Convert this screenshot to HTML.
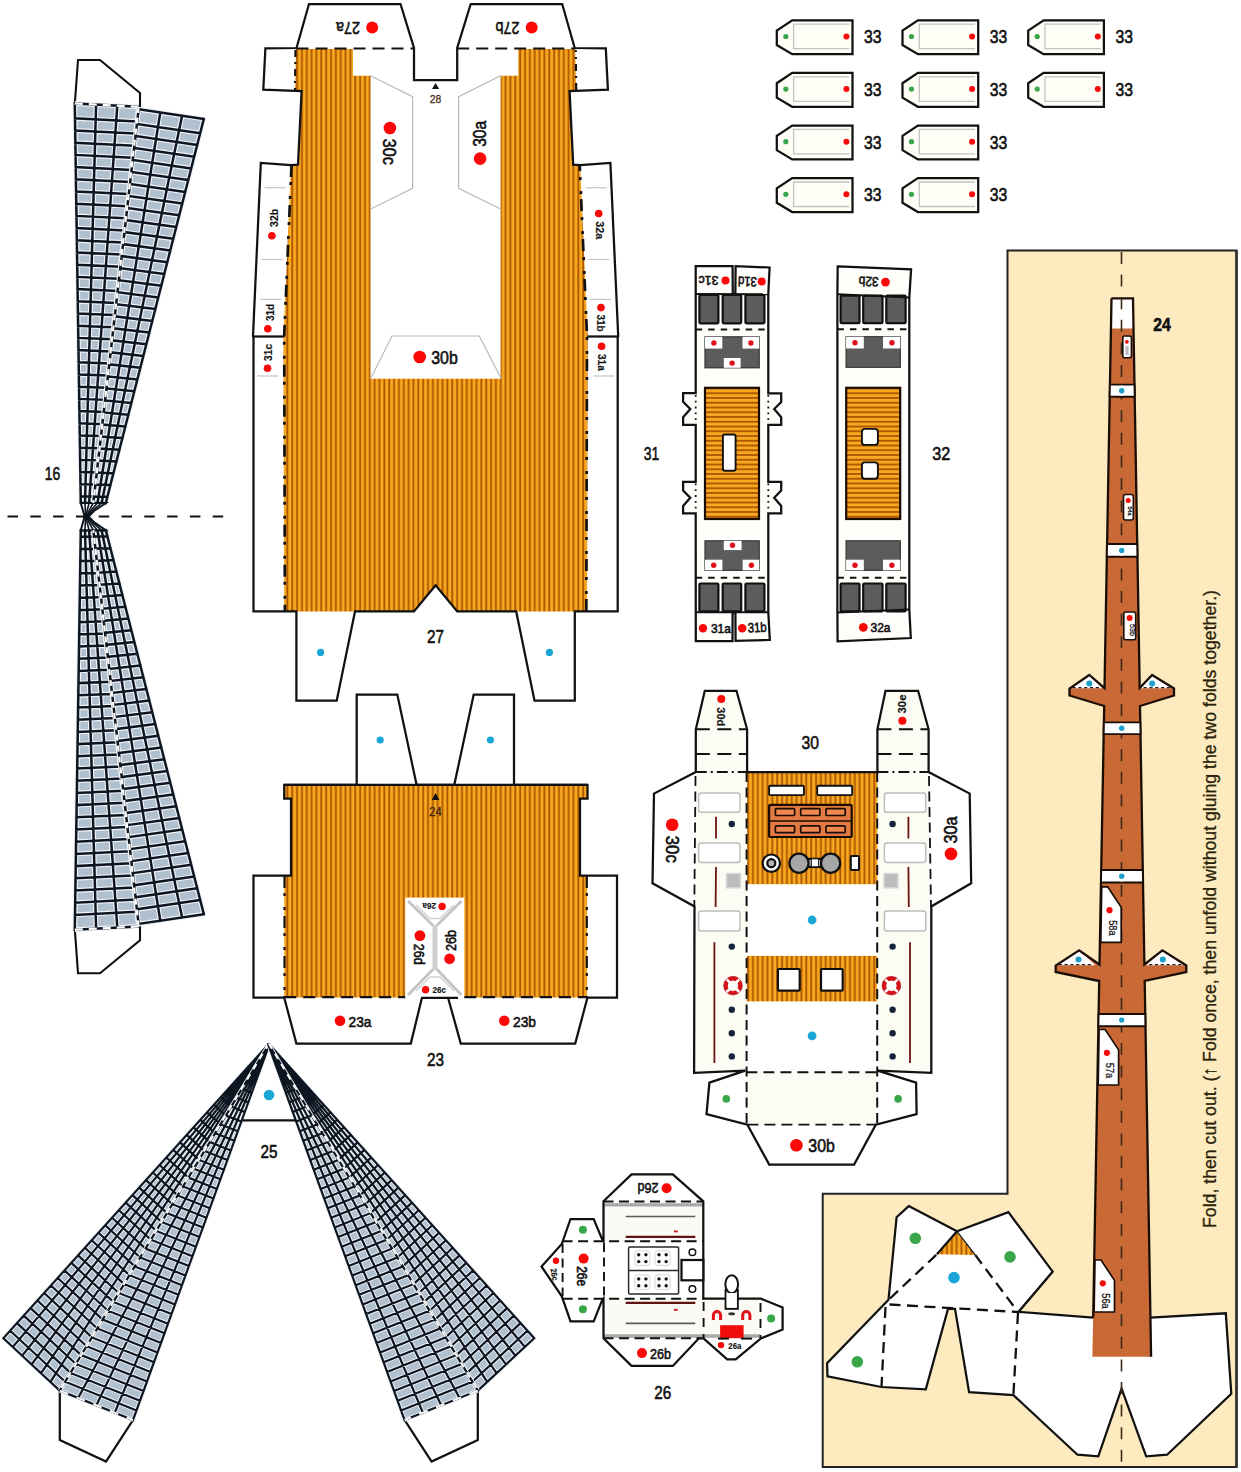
<!DOCTYPE html>
<html><head><meta charset="utf-8"><title>Paper model sheet</title>
<style>html,body{margin:0;padding:0;background:#fff}svg{display:block}text{font-family:"Liberation Sans",sans-serif}</style></head>
<body>
<svg width="1241" height="1472" viewBox="0 0 1241 1472" font-family="'Liberation Sans', sans-serif">
<defs>
<pattern id="vs" width="4.85" height="8" patternUnits="userSpaceOnUse"><rect width="4.85" height="8" fill="#f9a920"/><rect x="0.3" width="1.85" height="8" fill="#ab5600"/></pattern>
<pattern id="hs" width="8" height="4.75" patternUnits="userSpaceOnUse"><rect width="8" height="4.75" fill="#f9a920"/><rect y="2.8" width="8" height="1.85" fill="#ab5600"/></pattern>
</defs>
<rect width="1241" height="1472" fill="#fff"/>
<polygon points="1007.5,250.5 1236.5,250.5 1236.5,1467.0 822.7,1467.0 822.7,1193.8 1007.5,1193.8" fill="#fdebbf" stroke="#222" stroke-width="2" stroke-linejoin="miter" />
<polyline points="1236.5,250.5 1236.5,1467.0" fill="none" stroke="#333" stroke-width="2.6" />
<polygon points="74.8,104.0 78.0,60.0 100.0,60.0 140.0,93.0 140.0,108.0" fill="#fff" stroke="#111" stroke-width="2.1" stroke-linejoin="miter" />
<polygon points="74.8,103.5 138.6,106.8 93.3,503.0 80.8,503.0" fill="#b1c0cf"/>
<path d="M74.8 103.5L80.8 503.0 M96.1 104.6L85.0 503.0 M117.3 105.7L89.1 503.0 M138.6 106.8L93.3 503.0 M74.8 103.5L138.6 106.8 M75.0 118.3L136.9 121.5 M75.2 130.5L135.5 133.6 M75.4 142.7L134.2 145.7 M75.6 154.9L132.8 157.8 M75.8 167.1L131.4 169.9 M75.9 179.3L130.0 182.0 M76.1 191.5L128.6 194.1 M76.3 203.7L127.2 206.2 M76.5 215.9L125.9 218.3 M76.7 228.1L124.5 230.4 M76.9 240.3L123.1 242.5 M77.0 252.5L121.7 254.6 M77.2 264.7L120.3 266.7 M77.4 276.9L118.9 278.8 M77.6 289.1L117.6 290.9 M77.8 301.3L116.2 303.0 M78.0 313.5L114.8 315.1 M78.1 325.7L113.4 327.2 M78.3 337.9L112.0 339.3 M78.5 350.1L110.6 351.4 M78.7 362.3L109.3 363.5 M78.9 374.5L107.9 375.6 M79.1 386.7L106.5 387.7 M79.2 398.9L105.1 399.8 M79.4 411.1L103.7 411.9 M79.6 423.3L102.3 424.0 M79.8 435.5L101.0 436.1 M80.0 447.7L99.6 448.2 M80.2 459.9L98.2 460.3 M80.3 472.1L96.8 472.4 M80.5 484.3L95.4 484.5 M80.7 496.5L94.0 496.6 M80.8 503.0L93.3 503.0" stroke="#f1f4f8" stroke-width="4.8" fill="none"/>
<path d="M74.8 103.5L80.8 503.0 M96.1 104.6L85.0 503.0 M117.3 105.7L89.1 503.0 M138.6 106.8L93.3 503.0 M74.8 103.5L138.6 106.8 M75.0 118.3L136.9 121.5 M75.2 130.5L135.5 133.6 M75.4 142.7L134.2 145.7 M75.6 154.9L132.8 157.8 M75.8 167.1L131.4 169.9 M75.9 179.3L130.0 182.0 M76.1 191.5L128.6 194.1 M76.3 203.7L127.2 206.2 M76.5 215.9L125.9 218.3 M76.7 228.1L124.5 230.4 M76.9 240.3L123.1 242.5 M77.0 252.5L121.7 254.6 M77.2 264.7L120.3 266.7 M77.4 276.9L118.9 278.8 M77.6 289.1L117.6 290.9 M77.8 301.3L116.2 303.0 M78.0 313.5L114.8 315.1 M78.1 325.7L113.4 327.2 M78.3 337.9L112.0 339.3 M78.5 350.1L110.6 351.4 M78.7 362.3L109.3 363.5 M78.9 374.5L107.9 375.6 M79.1 386.7L106.5 387.7 M79.2 398.9L105.1 399.8 M79.4 411.1L103.7 411.9 M79.6 423.3L102.3 424.0 M79.8 435.5L101.0 436.1 M80.0 447.7L99.6 448.2 M80.2 459.9L98.2 460.3 M80.3 472.1L96.8 472.4 M80.5 484.3L95.4 484.5 M80.7 496.5L94.0 496.6 M80.8 503.0L93.3 503.0" stroke="#0c1520" stroke-width="2.5" fill="none" stroke-linecap="square"/>
<polygon points="138.6,109.3 203.8,119.0 105.8,503.0 93.3,503.0" fill="#b1c0cf"/>
<path d="M138.6 109.3L93.3 503.0 M160.3 112.5L97.5 503.0 M182.1 115.8L101.6 503.0 M203.8 119.0L105.8 503.0 M138.6 109.3L203.8 119.0 M136.9 123.9L200.2 133.2 M135.5 135.9L197.2 145.0 M134.2 147.9L194.2 156.7 M132.8 160.0L191.2 168.4 M131.4 172.0L188.2 180.1 M130.0 184.0L185.2 191.9 M128.6 196.0L182.2 203.6 M127.2 208.0L179.2 215.3 M125.9 220.1L176.2 227.0 M124.5 232.1L173.2 238.8 M123.1 244.1L170.2 250.5 M121.7 256.1L167.2 262.2 M120.3 268.2L164.3 273.9 M118.9 280.2L161.3 285.7 M117.6 292.2L158.3 297.4 M116.2 304.2L155.3 309.1 M114.8 316.3L152.3 320.9 M113.4 328.3L149.3 332.6 M112.0 340.3L146.3 344.3 M110.6 352.3L143.3 356.0 M109.3 364.3L140.3 367.8 M107.9 376.4L137.3 379.5 M106.5 388.4L134.3 391.2 M105.1 400.4L131.3 402.9 M103.7 412.4L128.3 414.7 M102.3 424.5L125.4 426.4 M101.0 436.5L122.4 438.1 M99.6 448.5L119.4 449.8 M98.2 460.5L116.4 461.6 M96.8 472.5L113.4 473.3 M95.4 484.6L110.4 485.0 M94.0 496.6L107.4 496.8 M93.3 503.0L105.8 503.0" stroke="#f1f4f8" stroke-width="4.8" fill="none"/>
<path d="M138.6 109.3L93.3 503.0 M160.3 112.5L97.5 503.0 M182.1 115.8L101.6 503.0 M203.8 119.0L105.8 503.0 M138.6 109.3L203.8 119.0 M136.9 123.9L200.2 133.2 M135.5 135.9L197.2 145.0 M134.2 147.9L194.2 156.7 M132.8 160.0L191.2 168.4 M131.4 172.0L188.2 180.1 M130.0 184.0L185.2 191.9 M128.6 196.0L182.2 203.6 M127.2 208.0L179.2 215.3 M125.9 220.1L176.2 227.0 M124.5 232.1L173.2 238.8 M123.1 244.1L170.2 250.5 M121.7 256.1L167.2 262.2 M120.3 268.2L164.3 273.9 M118.9 280.2L161.3 285.7 M117.6 292.2L158.3 297.4 M116.2 304.2L155.3 309.1 M114.8 316.3L152.3 320.9 M113.4 328.3L149.3 332.6 M112.0 340.3L146.3 344.3 M110.6 352.3L143.3 356.0 M109.3 364.3L140.3 367.8 M107.9 376.4L137.3 379.5 M106.5 388.4L134.3 391.2 M105.1 400.4L131.3 402.9 M103.7 412.4L128.3 414.7 M102.3 424.5L125.4 426.4 M101.0 436.5L122.4 438.1 M99.6 448.5L119.4 449.8 M98.2 460.5L116.4 461.6 M96.8 472.5L113.4 473.3 M95.4 484.6L110.4 485.0 M94.0 496.6L107.4 496.8 M93.3 503.0L105.8 503.0" stroke="#0c1520" stroke-width="2.5" fill="none" stroke-linecap="square"/>
<polygon points="80.8,503.0 105.8,503.0 94.0,511.0 88.6,516.6 84.6,516.6" fill="#fff" stroke="#0c1520" stroke-width="2" stroke-linejoin="miter" />
<polyline points="85.0,503.0 85.3,510.0 85.6,516.6" fill="none" stroke="#0c1520" stroke-width="1.6" />
<polyline points="89.1,503.0 87.3,510.0 86.1,516.6" fill="none" stroke="#0c1520" stroke-width="1.6" />
<polyline points="93.3,503.0 89.3,510.0 86.6,516.6" fill="none" stroke="#0c1520" stroke-width="1.6" />
<polyline points="97.5,503.0 91.2,510.0 87.1,516.6" fill="none" stroke="#0c1520" stroke-width="1.6" />
<polyline points="101.6,503.0 93.2,510.0 87.6,516.6" fill="none" stroke="#0c1520" stroke-width="1.6" />
<polyline points="138.6,106.8 93.3,503.0" fill="none" stroke="#fff" stroke-width="2.2" stroke-dasharray="6 5" />
<polyline points="74.8,103.5 138.6,106.8" fill="none" stroke="#fff" stroke-width="2.2" stroke-dasharray="8 6" />
<polygon points="74.8,929.2 78.0,973.2 100.0,973.2 140.0,940.2 140.0,925.2" fill="#fff" stroke="#111" stroke-width="2.1" stroke-linejoin="miter" />
<polygon points="74.8,929.7 138.6,926.4 93.3,530.2 80.8,530.2" fill="#b1c0cf"/>
<path d="M74.8 929.7L80.8 530.2 M96.1 928.6L85.0 530.2 M117.3 927.5L89.1 530.2 M138.6 926.4L93.3 530.2 M74.8 929.7L138.6 926.4 M75.0 914.9L136.9 911.7 M75.2 902.7L135.5 899.6 M75.4 890.5L134.2 887.5 M75.6 878.3L132.8 875.4 M75.8 866.1L131.4 863.3 M75.9 853.9L130.0 851.2 M76.1 841.7L128.6 839.1 M76.3 829.5L127.2 827.0 M76.5 817.3L125.9 814.9 M76.7 805.1L124.5 802.8 M76.9 792.9L123.1 790.7 M77.0 780.7L121.7 778.6 M77.2 768.5L120.3 766.5 M77.4 756.3L118.9 754.4 M77.6 744.1L117.6 742.3 M77.8 731.9L116.2 730.2 M78.0 719.7L114.8 718.1 M78.1 707.5L113.4 706.0 M78.3 695.3L112.0 693.9 M78.5 683.1L110.6 681.8 M78.7 670.9L109.3 669.7 M78.9 658.7L107.9 657.6 M79.1 646.5L106.5 645.5 M79.2 634.3L105.1 633.4 M79.4 622.1L103.7 621.3 M79.6 609.9L102.3 609.2 M79.8 597.7L101.0 597.1 M80.0 585.5L99.6 585.0 M80.2 573.3L98.2 572.9 M80.3 561.1L96.8 560.8 M80.5 548.9L95.4 548.7 M80.7 536.7L94.0 536.6 M80.8 530.2L93.3 530.2" stroke="#f1f4f8" stroke-width="4.8" fill="none"/>
<path d="M74.8 929.7L80.8 530.2 M96.1 928.6L85.0 530.2 M117.3 927.5L89.1 530.2 M138.6 926.4L93.3 530.2 M74.8 929.7L138.6 926.4 M75.0 914.9L136.9 911.7 M75.2 902.7L135.5 899.6 M75.4 890.5L134.2 887.5 M75.6 878.3L132.8 875.4 M75.8 866.1L131.4 863.3 M75.9 853.9L130.0 851.2 M76.1 841.7L128.6 839.1 M76.3 829.5L127.2 827.0 M76.5 817.3L125.9 814.9 M76.7 805.1L124.5 802.8 M76.9 792.9L123.1 790.7 M77.0 780.7L121.7 778.6 M77.2 768.5L120.3 766.5 M77.4 756.3L118.9 754.4 M77.6 744.1L117.6 742.3 M77.8 731.9L116.2 730.2 M78.0 719.7L114.8 718.1 M78.1 707.5L113.4 706.0 M78.3 695.3L112.0 693.9 M78.5 683.1L110.6 681.8 M78.7 670.9L109.3 669.7 M78.9 658.7L107.9 657.6 M79.1 646.5L106.5 645.5 M79.2 634.3L105.1 633.4 M79.4 622.1L103.7 621.3 M79.6 609.9L102.3 609.2 M79.8 597.7L101.0 597.1 M80.0 585.5L99.6 585.0 M80.2 573.3L98.2 572.9 M80.3 561.1L96.8 560.8 M80.5 548.9L95.4 548.7 M80.7 536.7L94.0 536.6 M80.8 530.2L93.3 530.2" stroke="#0c1520" stroke-width="2.5" fill="none" stroke-linecap="square"/>
<polygon points="138.6,923.9 203.8,914.2 105.8,530.2 93.3,530.2" fill="#b1c0cf"/>
<path d="M138.6 923.9L93.3 530.2 M160.3 920.7L97.5 530.2 M182.1 917.4L101.6 530.2 M203.8 914.2L105.8 530.2 M138.6 923.9L203.8 914.2 M136.9 909.3L200.2 900.0 M135.5 897.3L197.2 888.2 M134.2 885.3L194.2 876.5 M132.8 873.2L191.2 864.8 M131.4 861.2L188.2 853.1 M130.0 849.2L185.2 841.3 M128.6 837.2L182.2 829.6 M127.2 825.2L179.2 817.9 M125.9 813.1L176.2 806.2 M124.5 801.1L173.2 794.4 M123.1 789.1L170.2 782.7 M121.7 777.1L167.2 771.0 M120.3 765.0L164.3 759.3 M118.9 753.0L161.3 747.5 M117.6 741.0L158.3 735.8 M116.2 729.0L155.3 724.1 M114.8 716.9L152.3 712.3 M113.4 704.9L149.3 700.6 M112.0 692.9L146.3 688.9 M110.6 680.9L143.3 677.2 M109.3 668.9L140.3 665.4 M107.9 656.8L137.3 653.7 M106.5 644.8L134.3 642.0 M105.1 632.8L131.3 630.3 M103.7 620.8L128.3 618.5 M102.3 608.7L125.4 606.8 M101.0 596.7L122.4 595.1 M99.6 584.7L119.4 583.4 M98.2 572.7L116.4 571.6 M96.8 560.7L113.4 559.9 M95.4 548.6L110.4 548.2 M94.0 536.6L107.4 536.4 M93.3 530.2L105.8 530.2" stroke="#f1f4f8" stroke-width="4.8" fill="none"/>
<path d="M138.6 923.9L93.3 530.2 M160.3 920.7L97.5 530.2 M182.1 917.4L101.6 530.2 M203.8 914.2L105.8 530.2 M138.6 923.9L203.8 914.2 M136.9 909.3L200.2 900.0 M135.5 897.3L197.2 888.2 M134.2 885.3L194.2 876.5 M132.8 873.2L191.2 864.8 M131.4 861.2L188.2 853.1 M130.0 849.2L185.2 841.3 M128.6 837.2L182.2 829.6 M127.2 825.2L179.2 817.9 M125.9 813.1L176.2 806.2 M124.5 801.1L173.2 794.4 M123.1 789.1L170.2 782.7 M121.7 777.1L167.2 771.0 M120.3 765.0L164.3 759.3 M118.9 753.0L161.3 747.5 M117.6 741.0L158.3 735.8 M116.2 729.0L155.3 724.1 M114.8 716.9L152.3 712.3 M113.4 704.9L149.3 700.6 M112.0 692.9L146.3 688.9 M110.6 680.9L143.3 677.2 M109.3 668.9L140.3 665.4 M107.9 656.8L137.3 653.7 M106.5 644.8L134.3 642.0 M105.1 632.8L131.3 630.3 M103.7 620.8L128.3 618.5 M102.3 608.7L125.4 606.8 M101.0 596.7L122.4 595.1 M99.6 584.7L119.4 583.4 M98.2 572.7L116.4 571.6 M96.8 560.7L113.4 559.9 M95.4 548.6L110.4 548.2 M94.0 536.6L107.4 536.4 M93.3 530.2L105.8 530.2" stroke="#0c1520" stroke-width="2.5" fill="none" stroke-linecap="square"/>
<polygon points="80.8,530.2 105.8,530.2 94.0,522.2 88.6,516.6 84.6,516.6" fill="#fff" stroke="#0c1520" stroke-width="2" stroke-linejoin="miter" />
<polyline points="85.0,530.2 85.3,523.2 85.6,516.6" fill="none" stroke="#0c1520" stroke-width="1.6" />
<polyline points="89.1,530.2 87.3,523.2 86.1,516.6" fill="none" stroke="#0c1520" stroke-width="1.6" />
<polyline points="93.3,530.2 89.3,523.2 86.6,516.6" fill="none" stroke="#0c1520" stroke-width="1.6" />
<polyline points="97.5,530.2 91.2,523.2 87.1,516.6" fill="none" stroke="#0c1520" stroke-width="1.6" />
<polyline points="101.6,530.2 93.2,523.2 87.6,516.6" fill="none" stroke="#0c1520" stroke-width="1.6" />
<polyline points="138.6,926.4 93.3,530.2" fill="none" stroke="#fff" stroke-width="2.2" stroke-dasharray="6 5" />
<polyline points="74.8,929.7 138.6,926.4" fill="none" stroke="#fff" stroke-width="2.2" stroke-dasharray="8 6" />
<polyline points="7.5,516.6 223.5,516.6" fill="none" stroke="#111" stroke-width="2" stroke-dasharray="10.5 12.3" />
<text x="52.5" y="479.8" font-size="19" text-anchor="middle" fill="#111" stroke="#111" stroke-width="0.6" font-weight="normal" textLength="15.5" lengthAdjust="spacingAndGlyphs">16</text>
<polygon points="59.8,1390.6 59.8,1440.0 106.0,1461.6 133.0,1420.0" fill="#fff" stroke="#111" stroke-width="2.25" stroke-linejoin="miter" />
<polygon points="3.4,1338.2 59.8,1390.6 268.8,1044.5 268.3,1044.5" fill="#b1c0cf"/>
<path d="M3.4 1338.2L268.3 1044.5 M12.8 1346.9L268.4 1044.5 M22.2 1355.7L268.5 1044.5 M31.6 1364.4L268.6 1044.5 M41.0 1373.1L268.6 1044.5 M50.4 1381.9L268.7 1044.5 M59.8 1390.6L268.8 1044.5 M3.4 1338.2L59.8 1390.6 M10.2 1330.7L65.2 1381.7 M17.0 1323.1L70.5 1372.9 M23.8 1315.6L75.9 1364.0 M30.6 1308.1L81.2 1355.1 M37.4 1300.5L86.6 1346.2 M44.2 1293.0L92.0 1337.4 M50.9 1285.5L97.3 1328.5 M57.7 1278.0L102.7 1319.6 M64.5 1270.4L108.0 1310.7 M71.3 1262.9L113.4 1301.9 M78.1 1255.4L118.7 1293.0 M84.9 1247.8L124.1 1284.1 M91.7 1240.3L129.5 1275.2 M98.5 1232.8L134.8 1266.4 M105.3 1225.2L140.2 1257.5 M112.1 1217.7L145.5 1248.6 M118.9 1210.2L150.9 1239.7 M125.7 1202.6L156.3 1230.9 M132.5 1195.1L161.6 1222.0 M139.2 1187.6L167.0 1213.1 M146.0 1180.1L172.3 1204.2 M152.8 1172.5L177.7 1195.4 M159.6 1165.0L183.1 1186.5 M166.4 1157.5L188.4 1177.6 M173.2 1149.9L193.8 1168.7 M180.0 1142.4L199.1 1159.9 M186.8 1134.9L204.5 1151.0 M193.6 1127.3L209.9 1142.1 M200.4 1119.8L215.2 1133.2 M207.2 1112.3L220.6 1124.4 M214.0 1104.7L225.9 1115.5 M220.8 1097.2L231.3 1106.6 M227.5 1089.7L236.6 1097.7 M234.3 1082.2L242.0 1088.9 M241.1 1074.6L247.4 1080.0 M247.9 1067.1L252.7 1071.1 M254.7 1059.6L258.1 1062.2 M261.5 1052.0L263.4 1053.4 M268.3 1044.5L268.8 1044.5" stroke="#f1f4f8" stroke-width="4.0" fill="none"/>
<path d="M3.4 1338.2L268.3 1044.5 M12.8 1346.9L268.4 1044.5 M22.2 1355.7L268.5 1044.5 M31.6 1364.4L268.6 1044.5 M41.0 1373.1L268.6 1044.5 M50.4 1381.9L268.7 1044.5 M59.8 1390.6L268.8 1044.5 M3.4 1338.2L59.8 1390.6 M10.2 1330.7L65.2 1381.7 M17.0 1323.1L70.5 1372.9 M23.8 1315.6L75.9 1364.0 M30.6 1308.1L81.2 1355.1 M37.4 1300.5L86.6 1346.2 M44.2 1293.0L92.0 1337.4 M50.9 1285.5L97.3 1328.5 M57.7 1278.0L102.7 1319.6 M64.5 1270.4L108.0 1310.7 M71.3 1262.9L113.4 1301.9 M78.1 1255.4L118.7 1293.0 M84.9 1247.8L124.1 1284.1 M91.7 1240.3L129.5 1275.2 M98.5 1232.8L134.8 1266.4 M105.3 1225.2L140.2 1257.5 M112.1 1217.7L145.5 1248.6 M118.9 1210.2L150.9 1239.7 M125.7 1202.6L156.3 1230.9 M132.5 1195.1L161.6 1222.0 M139.2 1187.6L167.0 1213.1 M146.0 1180.1L172.3 1204.2 M152.8 1172.5L177.7 1195.4 M159.6 1165.0L183.1 1186.5 M166.4 1157.5L188.4 1177.6 M173.2 1149.9L193.8 1168.7 M180.0 1142.4L199.1 1159.9 M186.8 1134.9L204.5 1151.0 M193.6 1127.3L209.9 1142.1 M200.4 1119.8L215.2 1133.2 M207.2 1112.3L220.6 1124.4 M214.0 1104.7L225.9 1115.5 M220.8 1097.2L231.3 1106.6 M227.5 1089.7L236.6 1097.7 M234.3 1082.2L242.0 1088.9 M241.1 1074.6L247.4 1080.0 M247.9 1067.1L252.7 1071.1 M254.7 1059.6L258.1 1062.2 M261.5 1052.0L263.4 1053.4 M268.3 1044.5L268.8 1044.5" stroke="#0c1520" stroke-width="2.2" fill="none" stroke-linecap="square"/>
<polygon points="59.8,1390.6 133.0,1420.0 269.3,1044.5 268.8,1044.5" fill="#b1c0cf"/>
<path d="M59.8 1390.6L268.8 1044.5 M78.1 1397.9L268.9 1044.5 M96.4 1405.3L269.1 1044.5 M114.7 1412.7L269.2 1044.5 M133.0 1420.0L269.3 1044.5 M59.8 1390.6L133.0 1420.0 M65.2 1381.7L136.5 1410.4 M70.5 1372.9L140.0 1400.7 M75.9 1364.0L143.5 1391.1 M81.2 1355.1L147.0 1381.5 M86.6 1346.2L150.5 1371.9 M92.0 1337.4L154.0 1362.2 M97.3 1328.5L157.5 1352.6 M102.7 1319.6L161.0 1343.0 M108.0 1310.7L164.5 1333.3 M113.4 1301.9L167.9 1323.7 M118.7 1293.0L171.4 1314.1 M124.1 1284.1L174.9 1304.5 M129.5 1275.2L178.4 1294.8 M134.8 1266.4L181.9 1285.2 M140.2 1257.5L185.4 1275.6 M145.5 1248.6L188.9 1265.9 M150.9 1239.7L192.4 1256.3 M156.3 1230.9L195.9 1246.7 M161.6 1222.0L199.4 1237.1 M167.0 1213.1L202.9 1227.4 M172.3 1204.2L206.4 1217.8 M177.7 1195.4L209.9 1208.2 M183.1 1186.5L213.4 1198.6 M188.4 1177.6L216.9 1188.9 M193.8 1168.7L220.4 1179.3 M199.1 1159.9L223.9 1169.7 M204.5 1151.0L227.4 1160.0 M209.9 1142.1L230.9 1150.4 M215.2 1133.2L234.4 1140.8 M220.6 1124.4L237.8 1131.2 M225.9 1115.5L241.3 1121.5 M231.3 1106.6L244.8 1111.9 M236.6 1097.7L248.3 1102.3 M242.0 1088.9L251.8 1092.6 M247.4 1080.0L255.3 1083.0 M252.7 1071.1L258.8 1073.4 M258.1 1062.2L262.3 1063.8 M263.4 1053.4L265.8 1054.1 M268.8 1044.5L269.3 1044.5" stroke="#f1f4f8" stroke-width="4.0" fill="none"/>
<path d="M59.8 1390.6L268.8 1044.5 M78.1 1397.9L268.9 1044.5 M96.4 1405.3L269.1 1044.5 M114.7 1412.7L269.2 1044.5 M133.0 1420.0L269.3 1044.5 M59.8 1390.6L133.0 1420.0 M65.2 1381.7L136.5 1410.4 M70.5 1372.9L140.0 1400.7 M75.9 1364.0L143.5 1391.1 M81.2 1355.1L147.0 1381.5 M86.6 1346.2L150.5 1371.9 M92.0 1337.4L154.0 1362.2 M97.3 1328.5L157.5 1352.6 M102.7 1319.6L161.0 1343.0 M108.0 1310.7L164.5 1333.3 M113.4 1301.9L167.9 1323.7 M118.7 1293.0L171.4 1314.1 M124.1 1284.1L174.9 1304.5 M129.5 1275.2L178.4 1294.8 M134.8 1266.4L181.9 1285.2 M140.2 1257.5L185.4 1275.6 M145.5 1248.6L188.9 1265.9 M150.9 1239.7L192.4 1256.3 M156.3 1230.9L195.9 1246.7 M161.6 1222.0L199.4 1237.1 M167.0 1213.1L202.9 1227.4 M172.3 1204.2L206.4 1217.8 M177.7 1195.4L209.9 1208.2 M183.1 1186.5L213.4 1198.6 M188.4 1177.6L216.9 1188.9 M193.8 1168.7L220.4 1179.3 M199.1 1159.9L223.9 1169.7 M204.5 1151.0L227.4 1160.0 M209.9 1142.1L230.9 1150.4 M215.2 1133.2L234.4 1140.8 M220.6 1124.4L237.8 1131.2 M225.9 1115.5L241.3 1121.5 M231.3 1106.6L244.8 1111.9 M236.6 1097.7L248.3 1102.3 M242.0 1088.9L251.8 1092.6 M247.4 1080.0L255.3 1083.0 M252.7 1071.1L258.8 1073.4 M258.1 1062.2L262.3 1063.8 M263.4 1053.4L265.8 1054.1 M268.8 1044.5L269.3 1044.5" stroke="#0c1520" stroke-width="2.2" fill="none" stroke-linecap="square"/>
<polyline points="268.8,1043.5 59.8,1390.6" fill="none" stroke="#fff" stroke-width="2.0" stroke-dasharray="6 6" />
<polyline points="59.8,1390.6 133.0,1420.0" fill="none" stroke="#fff" stroke-width="2.0" stroke-dasharray="9 9" />
<polygon points="477.8,1390.6 477.8,1440.0 431.6,1461.6 404.6,1420.0" fill="#fff" stroke="#111" stroke-width="2.25" stroke-linejoin="miter" />
<polygon points="534.2,1338.2 477.8,1390.6 268.8,1044.5 269.3,1044.5" fill="#b1c0cf"/>
<path d="M534.2 1338.2L269.3 1044.5 M524.8 1346.9L269.2 1044.5 M515.4 1355.7L269.1 1044.5 M506.0 1364.4L269.1 1044.5 M496.6 1373.1L269.0 1044.5 M487.2 1381.9L268.9 1044.5 M477.8 1390.6L268.8 1044.5 M534.2 1338.2L477.8 1390.6 M527.4 1330.7L472.4 1381.7 M520.6 1323.1L467.1 1372.9 M513.8 1315.6L461.7 1364.0 M507.0 1308.1L456.4 1355.1 M500.2 1300.5L451.0 1346.2 M493.4 1293.0L445.6 1337.4 M486.7 1285.5L440.3 1328.5 M479.9 1278.0L434.9 1319.6 M473.1 1270.4L429.6 1310.7 M466.3 1262.9L424.2 1301.9 M459.5 1255.4L418.9 1293.0 M452.7 1247.8L413.5 1284.1 M445.9 1240.3L408.1 1275.2 M439.1 1232.8L402.8 1266.4 M432.3 1225.2L397.4 1257.5 M425.5 1217.7L392.1 1248.6 M418.7 1210.2L386.7 1239.7 M411.9 1202.6L381.3 1230.9 M405.1 1195.1L376.0 1222.0 M398.4 1187.6L370.6 1213.1 M391.6 1180.1L365.3 1204.2 M384.8 1172.5L359.9 1195.4 M378.0 1165.0L354.5 1186.5 M371.2 1157.5L349.2 1177.6 M364.4 1149.9L343.8 1168.7 M357.6 1142.4L338.5 1159.9 M350.8 1134.9L333.1 1151.0 M344.0 1127.3L327.7 1142.1 M337.2 1119.8L322.4 1133.2 M330.4 1112.3L317.0 1124.4 M323.6 1104.7L311.7 1115.5 M316.8 1097.2L306.3 1106.6 M310.1 1089.7L301.0 1097.7 M303.3 1082.2L295.6 1088.9 M296.5 1074.6L290.2 1080.0 M289.7 1067.1L284.9 1071.1 M282.9 1059.6L279.5 1062.2 M276.1 1052.0L274.2 1053.4 M269.3 1044.5L268.8 1044.5" stroke="#f1f4f8" stroke-width="4.0" fill="none"/>
<path d="M534.2 1338.2L269.3 1044.5 M524.8 1346.9L269.2 1044.5 M515.4 1355.7L269.1 1044.5 M506.0 1364.4L269.1 1044.5 M496.6 1373.1L269.0 1044.5 M487.2 1381.9L268.9 1044.5 M477.8 1390.6L268.8 1044.5 M534.2 1338.2L477.8 1390.6 M527.4 1330.7L472.4 1381.7 M520.6 1323.1L467.1 1372.9 M513.8 1315.6L461.7 1364.0 M507.0 1308.1L456.4 1355.1 M500.2 1300.5L451.0 1346.2 M493.4 1293.0L445.6 1337.4 M486.7 1285.5L440.3 1328.5 M479.9 1278.0L434.9 1319.6 M473.1 1270.4L429.6 1310.7 M466.3 1262.9L424.2 1301.9 M459.5 1255.4L418.9 1293.0 M452.7 1247.8L413.5 1284.1 M445.9 1240.3L408.1 1275.2 M439.1 1232.8L402.8 1266.4 M432.3 1225.2L397.4 1257.5 M425.5 1217.7L392.1 1248.6 M418.7 1210.2L386.7 1239.7 M411.9 1202.6L381.3 1230.9 M405.1 1195.1L376.0 1222.0 M398.4 1187.6L370.6 1213.1 M391.6 1180.1L365.3 1204.2 M384.8 1172.5L359.9 1195.4 M378.0 1165.0L354.5 1186.5 M371.2 1157.5L349.2 1177.6 M364.4 1149.9L343.8 1168.7 M357.6 1142.4L338.5 1159.9 M350.8 1134.9L333.1 1151.0 M344.0 1127.3L327.7 1142.1 M337.2 1119.8L322.4 1133.2 M330.4 1112.3L317.0 1124.4 M323.6 1104.7L311.7 1115.5 M316.8 1097.2L306.3 1106.6 M310.1 1089.7L301.0 1097.7 M303.3 1082.2L295.6 1088.9 M296.5 1074.6L290.2 1080.0 M289.7 1067.1L284.9 1071.1 M282.9 1059.6L279.5 1062.2 M276.1 1052.0L274.2 1053.4 M269.3 1044.5L268.8 1044.5" stroke="#0c1520" stroke-width="2.2" fill="none" stroke-linecap="square"/>
<polygon points="477.8,1390.6 404.6,1420.0 268.3,1044.5 268.8,1044.5" fill="#b1c0cf"/>
<path d="M477.8 1390.6L268.8 1044.5 M459.5 1397.9L268.7 1044.5 M441.2 1405.3L268.6 1044.5 M422.9 1412.7L268.4 1044.5 M404.6 1420.0L268.3 1044.5 M477.8 1390.6L404.6 1420.0 M472.4 1381.7L401.1 1410.4 M467.1 1372.9L397.6 1400.7 M461.7 1364.0L394.1 1391.1 M456.4 1355.1L390.6 1381.5 M451.0 1346.2L387.1 1371.9 M445.6 1337.4L383.6 1362.2 M440.3 1328.5L380.1 1352.6 M434.9 1319.6L376.6 1343.0 M429.6 1310.7L373.1 1333.3 M424.2 1301.9L369.7 1323.7 M418.9 1293.0L366.2 1314.1 M413.5 1284.1L362.7 1304.5 M408.1 1275.2L359.2 1294.8 M402.8 1266.4L355.7 1285.2 M397.4 1257.5L352.2 1275.6 M392.1 1248.6L348.7 1265.9 M386.7 1239.7L345.2 1256.3 M381.3 1230.9L341.7 1246.7 M376.0 1222.0L338.2 1237.1 M370.6 1213.1L334.7 1227.4 M365.3 1204.2L331.2 1217.8 M359.9 1195.4L327.7 1208.2 M354.5 1186.5L324.2 1198.6 M349.2 1177.6L320.7 1188.9 M343.8 1168.7L317.2 1179.3 M338.5 1159.9L313.7 1169.7 M333.1 1151.0L310.2 1160.0 M327.7 1142.1L306.7 1150.4 M322.4 1133.2L303.2 1140.8 M317.0 1124.4L299.8 1131.2 M311.7 1115.5L296.3 1121.5 M306.3 1106.6L292.8 1111.9 M301.0 1097.7L289.3 1102.3 M295.6 1088.9L285.8 1092.6 M290.2 1080.0L282.3 1083.0 M284.9 1071.1L278.8 1073.4 M279.5 1062.2L275.3 1063.8 M274.2 1053.4L271.8 1054.1 M268.8 1044.5L268.3 1044.5" stroke="#f1f4f8" stroke-width="4.0" fill="none"/>
<path d="M477.8 1390.6L268.8 1044.5 M459.5 1397.9L268.7 1044.5 M441.2 1405.3L268.6 1044.5 M422.9 1412.7L268.4 1044.5 M404.6 1420.0L268.3 1044.5 M477.8 1390.6L404.6 1420.0 M472.4 1381.7L401.1 1410.4 M467.1 1372.9L397.6 1400.7 M461.7 1364.0L394.1 1391.1 M456.4 1355.1L390.6 1381.5 M451.0 1346.2L387.1 1371.9 M445.6 1337.4L383.6 1362.2 M440.3 1328.5L380.1 1352.6 M434.9 1319.6L376.6 1343.0 M429.6 1310.7L373.1 1333.3 M424.2 1301.9L369.7 1323.7 M418.9 1293.0L366.2 1314.1 M413.5 1284.1L362.7 1304.5 M408.1 1275.2L359.2 1294.8 M402.8 1266.4L355.7 1285.2 M397.4 1257.5L352.2 1275.6 M392.1 1248.6L348.7 1265.9 M386.7 1239.7L345.2 1256.3 M381.3 1230.9L341.7 1246.7 M376.0 1222.0L338.2 1237.1 M370.6 1213.1L334.7 1227.4 M365.3 1204.2L331.2 1217.8 M359.9 1195.4L327.7 1208.2 M354.5 1186.5L324.2 1198.6 M349.2 1177.6L320.7 1188.9 M343.8 1168.7L317.2 1179.3 M338.5 1159.9L313.7 1169.7 M333.1 1151.0L310.2 1160.0 M327.7 1142.1L306.7 1150.4 M322.4 1133.2L303.2 1140.8 M317.0 1124.4L299.8 1131.2 M311.7 1115.5L296.3 1121.5 M306.3 1106.6L292.8 1111.9 M301.0 1097.7L289.3 1102.3 M295.6 1088.9L285.8 1092.6 M290.2 1080.0L282.3 1083.0 M284.9 1071.1L278.8 1073.4 M279.5 1062.2L275.3 1063.8 M274.2 1053.4L271.8 1054.1 M268.8 1044.5L268.3 1044.5" stroke="#0c1520" stroke-width="2.2" fill="none" stroke-linecap="square"/>
<polyline points="268.8,1043.5 477.8,1390.6" fill="none" stroke="#fff" stroke-width="2.0" stroke-dasharray="6 6" />
<polyline points="477.8,1390.6 404.6,1420.0" fill="none" stroke="#fff" stroke-width="2.0" stroke-dasharray="9 9" />
<polyline points="242.3,1120.3 295.9,1120.3" fill="none" stroke="#111" stroke-width="2.25" />
<circle cx="269.0" cy="1095.0" r="5.3" fill="#1aa7d8" stroke="none" stroke-width="1"/>
<text x="269.0" y="1158.0" font-size="19" text-anchor="middle" fill="#111" stroke="#111" stroke-width="0.6" font-weight="normal" textLength="17.0" lengthAdjust="spacingAndGlyphs">25</text>
<polygon points="435.6,80.0 414.0,80.0 414.0,48.0 400.5,4.0 309.0,4.0 296.5,48.0 265.4,48.3 263.3,89.6 301.6,91.2 298.0,164.6 291.0,165.0 260.8,163.0 253.0,336.0 253.5,338.0 253.5,611.4 296.4,611.4 296.4,700.7 336.7,700.7 355.0,611.4 414.0,611.4 435.6,585.3 457.2,611.4 516.2,611.4 534.5,700.7 574.8,700.7 574.8,611.4 617.7,611.4 617.7,338.0 618.2,336.0 610.4,163.0 580.2,165.0 573.2,164.6 569.6,91.2 607.9,89.6 605.8,48.3 574.7,48.0 562.2,4.0 470.7,4.0 457.2,48.0 457.2,80.0" fill="#fff" stroke="none" stroke-width="0" stroke-linejoin="miter" />
<polygon points="435.6,378.7 370.6,378.7 370.6,75.8 353.0,75.8 353.0,49.0 296.0,49.0 295.0,90.0 301.6,91.2 298.0,164.6 291.0,165.0 283.5,336.0 284.2,611.4 414.0,611.4 435.6,585.3 457.2,611.4 587.0,611.4 587.7,336.0 580.2,165.0 573.2,164.6 569.6,91.2 576.2,90.0 575.2,49.0 518.2,49.0 518.2,75.8 500.6,75.8 500.6,378.7" fill="url(#vs)" stroke="none" stroke-width="0" stroke-linejoin="miter" />
<polyline points="370.6,75.8 412.6,96.7 412.6,188.4 370.6,209.0" fill="none" stroke="#b9b9b9" stroke-width="1.2" />
<polyline points="264.6,187.7 285.6,187.7" fill="none" stroke="#c4c4c4" stroke-width="1.2" />
<polyline points="261.7,259.5 282.7,259.5" fill="none" stroke="#c4c4c4" stroke-width="1.2" />
<polyline points="260.1,299.4 281.1,299.4" fill="none" stroke="#c4c4c4" stroke-width="1.2" />
<polyline points="257.0,376.0 278.0,376.0" fill="none" stroke="#c4c4c4" stroke-width="1.2" />
<polyline points="500.6,209.0 458.6,188.4 458.6,96.7 500.6,75.8" fill="none" stroke="#b9b9b9" stroke-width="1.2" />
<polyline points="585.6,187.7 606.6,187.7" fill="none" stroke="#c4c4c4" stroke-width="1.2" />
<polyline points="588.5,259.5 609.5,259.5" fill="none" stroke="#c4c4c4" stroke-width="1.2" />
<polyline points="590.1,299.4 611.1,299.4" fill="none" stroke="#c4c4c4" stroke-width="1.2" />
<polyline points="593.2,376.0 614.2,376.0" fill="none" stroke="#c4c4c4" stroke-width="1.2" />
<polyline points="370.6,378.7 392.0,336.0 479.3,336.0 501.3,378.7" fill="none" stroke="#b9b9b9" stroke-width="1.2" />
<polygon points="435.6,80.0 414.0,80.0 414.0,48.0 400.5,4.0 309.0,4.0 296.5,48.0 265.4,48.3 263.3,89.6 301.6,91.2 298.0,164.6 291.0,165.0 260.8,163.0 253.0,336.0 253.5,338.0 253.5,611.4 296.4,611.4 296.4,700.7 336.7,700.7 355.0,611.4 414.0,611.4 435.6,585.3 457.2,611.4 516.2,611.4 534.5,700.7 574.8,700.7 574.8,611.4 617.7,611.4 617.7,338.0 618.2,336.0 610.4,163.0 580.2,165.0 573.2,164.6 569.6,91.2 607.9,89.6 605.8,48.3 574.7,48.0 562.2,4.0 470.7,4.0 457.2,48.0 457.2,80.0" fill="none" stroke="#111" stroke-width="2.25" stroke-linejoin="miter" />
<polyline points="253.0,336.5 284.0,336.5" fill="none" stroke="#111" stroke-width="2.25" />
<polyline points="618.2,336.5 587.2,336.5" fill="none" stroke="#111" stroke-width="2.25" />
<polyline points="296.5,48.6 414.0,48.6" fill="none" stroke="#111" stroke-width="2" stroke-dasharray="12 7" />
<polyline points="295.5,50.0 295.0,90.0" fill="none" stroke="#111" stroke-width="2.2" stroke-dasharray="7 5 2 5" />
<polyline points="291.5,165.0 284.2,336.0 284.9,611.0" fill="none" stroke="#111" stroke-width="2.7" stroke-dasharray="12 5 3 11 3 6" />
<polyline points="457.2,48.6 574.7,48.6" fill="none" stroke="#111" stroke-width="2" stroke-dasharray="12 7" />
<polyline points="576.2,90.0 575.7,50.0" fill="none" stroke="#111" stroke-width="2.2" stroke-dasharray="7 5 2 5" />
<polyline points="586.3,611.0 587.0,336.0 579.7,165.0" fill="none" stroke="#111" stroke-width="2.7" stroke-dasharray="12 5 3 11 3 6" />
<circle cx="372.2" cy="27.4" r="6.0" fill="#fa0808" stroke="none" stroke-width="1"/>
<text x="348.0" y="27.4" font-size="17" text-anchor="middle" dominant-baseline="central" fill="#111" stroke="#111" stroke-width="0.6" font-weight="normal" textLength="24.0" lengthAdjust="spacingAndGlyphs" transform="rotate(180 348.0 27.4)">27a</text>
<circle cx="531.7" cy="27.4" r="6.0" fill="#fa0808" stroke="none" stroke-width="1"/>
<text x="507.5" y="27.4" font-size="17" text-anchor="middle" dominant-baseline="central" fill="#111" stroke="#111" stroke-width="0.6" font-weight="normal" textLength="24.0" lengthAdjust="spacingAndGlyphs" transform="rotate(180 507.5 27.4)">27b</text>
<polygon points="435.6,83.0 432.0,89.0 439.2,89.0" fill="#111" stroke="none" stroke-width="0" stroke-linejoin="miter" />
<text x="435.6" y="102.5" font-size="11.5" text-anchor="middle" fill="#4a2d20" stroke="#4a2d20" stroke-width="0.3" font-weight="normal" textLength="11.5" lengthAdjust="spacingAndGlyphs">28</text>
<circle cx="389.9" cy="128.0" r="6.3" fill="#fa0808" stroke="none" stroke-width="1"/>
<text x="389.0" y="151.8" font-size="18" text-anchor="middle" dominant-baseline="central" fill="#111" stroke="#111" stroke-width="0.6" font-weight="normal" textLength="26.0" lengthAdjust="spacingAndGlyphs" transform="rotate(90 389.0 151.8)">30c</text>
<circle cx="480.1" cy="158.6" r="6.3" fill="#fa0808" stroke="none" stroke-width="1"/>
<text x="480.5" y="133.8" font-size="18" text-anchor="middle" dominant-baseline="central" fill="#111" stroke="#111" stroke-width="0.6" font-weight="normal" textLength="26.0" lengthAdjust="spacingAndGlyphs" transform="rotate(-90 480.5 133.8)">30a</text>
<circle cx="419.7" cy="357.0" r="6.3" fill="#fa0808" stroke="none" stroke-width="1"/>
<text x="444.5" y="357.5" font-size="18" text-anchor="middle" dominant-baseline="central" fill="#111" stroke="#111" stroke-width="0.6" font-weight="normal" textLength="26.5" lengthAdjust="spacingAndGlyphs">30b</text>
<circle cx="271.9" cy="235.8" r="3.8" fill="#fa0808" stroke="none" stroke-width="1"/>
<text x="274.3" y="217.9" font-size="11.5" text-anchor="middle" dominant-baseline="central" fill="#111" stroke="#111" stroke-width="0.15" font-weight="bold" textLength="18.0" lengthAdjust="spacingAndGlyphs" transform="rotate(-90 274.3 217.9)">32b</text>
<circle cx="267.8" cy="328.8" r="3.8" fill="#fa0808" stroke="none" stroke-width="1"/>
<text x="269.5" y="312.5" font-size="11.5" text-anchor="middle" dominant-baseline="central" fill="#111" stroke="#111" stroke-width="0.15" font-weight="bold" textLength="17.0" lengthAdjust="spacingAndGlyphs" transform="rotate(-90 269.5 312.5)">31d</text>
<circle cx="267.5" cy="368.2" r="3.8" fill="#fa0808" stroke="none" stroke-width="1"/>
<text x="267.8" y="352.4" font-size="11.5" text-anchor="middle" dominant-baseline="central" fill="#111" stroke="#111" stroke-width="0.15" font-weight="bold" textLength="17.0" lengthAdjust="spacingAndGlyphs" transform="rotate(-90 267.8 352.4)">31c</text>
<circle cx="598.7" cy="213.5" r="3.8" fill="#fa0808" stroke="none" stroke-width="1"/>
<text x="600.4" y="230.2" font-size="11.5" text-anchor="middle" dominant-baseline="central" fill="#111" stroke="#111" stroke-width="0.15" font-weight="bold" textLength="18.0" lengthAdjust="spacingAndGlyphs" transform="rotate(90 600.4 230.2)">32a</text>
<circle cx="601.0" cy="307.6" r="3.8" fill="#fa0808" stroke="none" stroke-width="1"/>
<text x="601.0" y="323.0" font-size="11.5" text-anchor="middle" dominant-baseline="central" fill="#111" stroke="#111" stroke-width="0.15" font-weight="bold" textLength="17.0" lengthAdjust="spacingAndGlyphs" transform="rotate(90 601.0 323.0)">31b</text>
<circle cx="601.6" cy="346.3" r="3.8" fill="#fa0808" stroke="none" stroke-width="1"/>
<text x="601.6" y="362.4" font-size="11.5" text-anchor="middle" dominant-baseline="central" fill="#111" stroke="#111" stroke-width="0.15" font-weight="bold" textLength="17.0" lengthAdjust="spacingAndGlyphs" transform="rotate(90 601.6 362.4)">31a</text>
<circle cx="320.6" cy="652.4" r="3.6" fill="#1aa7d8" stroke="none" stroke-width="1"/>
<circle cx="549.4" cy="652.4" r="3.6" fill="#1aa7d8" stroke="none" stroke-width="1"/>
<text x="435.6" y="643.0" font-size="19" text-anchor="middle" fill="#111" stroke="#111" stroke-width="0.6" font-weight="normal" textLength="17.0" lengthAdjust="spacingAndGlyphs">27</text>
<polygon points="435.6,784.8 416.6,784.8 397.3,694.5 356.7,694.5 356.7,784.8 284.2,784.8 284.2,798.6 291.0,798.6 291.0,875.6 253.5,875.6 253.5,997.5 284.2,997.5 296.4,1043.6 410.8,1043.6 422.0,997.5 435.6,997.5 448.0,997.5 460.8,1043.6 575.2,1043.6 587.5,997.5 617.0,997.5 617.0,875.6 580.0,875.6 580.0,798.6 587.5,798.6 587.5,784.8 514.0,784.8 514.0,694.5 473.7,694.5 454.3,784.8" fill="#fff" stroke="none" stroke-width="0" stroke-linejoin="miter" />
<polygon points="284.2,784.8 587.5,784.8 587.5,798.6 580.0,798.6 580.0,875.6 587.1,875.6 587.1,997.5 284.2,997.5 284.2,875.6 291.0,875.6 291.0,798.6 284.2,798.6" fill="url(#vs)" stroke="none" stroke-width="0" stroke-linejoin="miter" />
<polygon points="435.6,784.8 416.6,784.8 397.3,694.5 356.7,694.5 356.7,784.8 284.2,784.8 284.2,798.6 291.0,798.6 291.0,875.6 253.5,875.6 253.5,997.5 284.2,997.5 296.4,1043.6 410.8,1043.6 422.0,997.5 435.6,997.5 448.0,997.5 460.8,1043.6 575.2,1043.6 587.5,997.5 617.0,997.5 617.0,875.6 580.0,875.6 580.0,798.6 587.5,798.6 587.5,784.8 514.0,784.8 514.0,694.5 473.7,694.5 454.3,784.8" fill="none" stroke="#111" stroke-width="2.25" stroke-linejoin="miter" />
<polyline points="284.2,784.8 587.5,784.8" fill="none" stroke="#111" stroke-width="2.25" />
<polyline points="284.5,876.0 284.5,997.0" fill="none" stroke="#111" stroke-width="2.2" stroke-dasharray="12 5 3 11 3 6" />
<polyline points="586.8,876.0 586.8,997.0" fill="none" stroke="#111" stroke-width="2.2" stroke-dasharray="12 5 3 11 3 6" />
<polyline points="284.2,997.2 406.0,997.2" fill="none" stroke="#111" stroke-width="2.2" stroke-dasharray="12 7" />
<polyline points="464.0,997.2 587.5,997.2" fill="none" stroke="#111" stroke-width="2.2" stroke-dasharray="12 7" />
<rect x="405.2" y="897.6" width="59.1" height="100.4" fill="#fff" stroke="none" stroke-width="1" rx="0"/>
<polyline points="408.0,901.0 433.3,925.8" fill="none" stroke="#c4c4c4" stroke-width="2.8" />
<polyline points="461.5,901.0 436.6,925.8" fill="none" stroke="#c4c4c4" stroke-width="2.8" />
<polyline points="408.0,995.0 433.3,969.0" fill="none" stroke="#c4c4c4" stroke-width="2.8" />
<polyline points="461.5,995.0 436.6,969.0" fill="none" stroke="#c4c4c4" stroke-width="2.8" />
<rect x="432.5" y="925.0" width="4.9" height="45.0" fill="#cfcfcf" stroke="none" stroke-width="1" rx="0"/>
<polyline points="416.0,905.0 430.0,918.5 440.0,918.5 454.0,905.0" fill="none" stroke="#d0d0d0" stroke-width="1.4" />
<polyline points="416.0,991.0 430.0,977.0 440.0,977.0 454.0,991.0" fill="none" stroke="#d0d0d0" stroke-width="1.4" />
<polyline points="421.0,997.8 458.0,997.8" fill="none" stroke="#111" stroke-width="2.25" />
<circle cx="442.1" cy="906.4" r="3.7" fill="#fa0808" stroke="none" stroke-width="1"/>
<text x="429.3" y="906.0" font-size="9" text-anchor="middle" dominant-baseline="central" fill="#111" stroke="#111" stroke-width="0.15" font-weight="bold" textLength="13.5" lengthAdjust="spacingAndGlyphs" transform="rotate(180 429.3 906.0)">26a</text>
<circle cx="425.6" cy="989.8" r="3.7" fill="#fa0808" stroke="none" stroke-width="1"/>
<text x="439.3" y="990.2" font-size="9" text-anchor="middle" dominant-baseline="central" fill="#111" stroke="#111" stroke-width="0.15" font-weight="bold" textLength="13.5" lengthAdjust="spacingAndGlyphs">26c</text>
<circle cx="419.9" cy="935.6" r="5.4" fill="#fa0808" stroke="none" stroke-width="1"/>
<text x="419.3" y="954.3" font-size="15" text-anchor="middle" dominant-baseline="central" fill="#111" stroke="#111" stroke-width="0.6" font-weight="normal" textLength="21.0" lengthAdjust="spacingAndGlyphs" transform="rotate(90 419.3 954.3)">26d</text>
<circle cx="449.6" cy="958.8" r="5.4" fill="#fa0808" stroke="none" stroke-width="1"/>
<text x="450.2" y="940.6" font-size="15" text-anchor="middle" dominant-baseline="central" fill="#111" stroke="#111" stroke-width="0.6" font-weight="normal" textLength="21.0" lengthAdjust="spacingAndGlyphs" transform="rotate(-90 450.2 940.6)">26b</text>
<polygon points="435.6,793.0 431.8,800.0 439.4,800.0" fill="#111" stroke="none" stroke-width="0" stroke-linejoin="miter" />
<text x="435.6" y="815.5" font-size="12" text-anchor="middle" fill="#3a2410" stroke="#3a2410" stroke-width="0.3" font-weight="normal" textLength="12.5" lengthAdjust="spacingAndGlyphs">24</text>
<circle cx="340.0" cy="1020.7" r="5.3" fill="#fa0808" stroke="none" stroke-width="1"/>
<text x="360.0" y="1021.0" font-size="15.5" text-anchor="middle" dominant-baseline="central" fill="#111" stroke="#111" stroke-width="0.6" font-weight="normal" textLength="23.0" lengthAdjust="spacingAndGlyphs">23a</text>
<circle cx="504.3" cy="1020.7" r="5.3" fill="#fa0808" stroke="none" stroke-width="1"/>
<text x="524.5" y="1021.0" font-size="15.5" text-anchor="middle" dominant-baseline="central" fill="#111" stroke="#111" stroke-width="0.6" font-weight="normal" textLength="23.0" lengthAdjust="spacingAndGlyphs">23b</text>
<circle cx="380.2" cy="740.0" r="3.6" fill="#1aa7d8" stroke="none" stroke-width="1"/>
<circle cx="490.4" cy="740.0" r="3.6" fill="#1aa7d8" stroke="none" stroke-width="1"/>
<text x="435.6" y="1066.0" font-size="19" text-anchor="middle" fill="#111" stroke="#111" stroke-width="0.6" font-weight="normal" textLength="17.0" lengthAdjust="spacingAndGlyphs">23</text>
<polygon points="792.2,20.3 852.5,20.3 852.5,54.2 792.2,54.2 776.8,45.0 776.8,30.6" fill="#fffef6" stroke="#111" stroke-width="2.25" stroke-linejoin="miter" />
<polyline points="849.3,24.2 793.6,24.2 793.6,48.7 849.3,48.7" fill="none" stroke="#c2c2c2" stroke-width="1.3" />
<circle cx="785.8" cy="36.5" r="2.6" fill="#3aa64a" stroke="none" stroke-width="1"/>
<circle cx="846.4" cy="36.5" r="3.0" fill="#fa0808" stroke="none" stroke-width="1"/>
<text x="872.8" y="43.3" font-size="19" text-anchor="middle" fill="#111" stroke="#111" stroke-width="0.6" font-weight="normal" textLength="17.5" lengthAdjust="spacingAndGlyphs">33</text>
<polygon points="917.9,20.3 978.2,20.3 978.2,54.2 917.9,54.2 902.5,45.0 902.5,30.6" fill="#fffef6" stroke="#111" stroke-width="2.25" stroke-linejoin="miter" />
<polyline points="975.0,24.2 919.3,24.2 919.3,48.7 975.0,48.7" fill="none" stroke="#c2c2c2" stroke-width="1.3" />
<circle cx="911.5" cy="36.5" r="2.6" fill="#3aa64a" stroke="none" stroke-width="1"/>
<circle cx="972.1" cy="36.5" r="3.0" fill="#fa0808" stroke="none" stroke-width="1"/>
<text x="998.5" y="43.3" font-size="19" text-anchor="middle" fill="#111" stroke="#111" stroke-width="0.6" font-weight="normal" textLength="17.5" lengthAdjust="spacingAndGlyphs">33</text>
<polygon points="1043.6,20.3 1103.9,20.3 1103.9,54.2 1043.6,54.2 1028.2,45.0 1028.2,30.6" fill="#fffef6" stroke="#111" stroke-width="2.25" stroke-linejoin="miter" />
<polyline points="1100.7,24.2 1045.0,24.2 1045.0,48.7 1100.7,48.7" fill="none" stroke="#c2c2c2" stroke-width="1.3" />
<circle cx="1037.2" cy="36.5" r="2.6" fill="#3aa64a" stroke="none" stroke-width="1"/>
<circle cx="1097.8" cy="36.5" r="3.0" fill="#fa0808" stroke="none" stroke-width="1"/>
<text x="1124.2" y="43.3" font-size="19" text-anchor="middle" fill="#111" stroke="#111" stroke-width="0.6" font-weight="normal" textLength="17.5" lengthAdjust="spacingAndGlyphs">33</text>
<polygon points="792.2,72.9 852.5,72.9 852.5,106.8 792.2,106.8 776.8,97.6 776.8,83.2" fill="#fffef6" stroke="#111" stroke-width="2.25" stroke-linejoin="miter" />
<polyline points="849.3,76.8 793.6,76.8 793.6,101.3 849.3,101.3" fill="none" stroke="#c2c2c2" stroke-width="1.3" />
<circle cx="785.8" cy="89.1" r="2.6" fill="#3aa64a" stroke="none" stroke-width="1"/>
<circle cx="846.4" cy="89.1" r="3.0" fill="#fa0808" stroke="none" stroke-width="1"/>
<text x="872.8" y="95.9" font-size="19" text-anchor="middle" fill="#111" stroke="#111" stroke-width="0.6" font-weight="normal" textLength="17.5" lengthAdjust="spacingAndGlyphs">33</text>
<polygon points="917.9,72.9 978.2,72.9 978.2,106.8 917.9,106.8 902.5,97.6 902.5,83.2" fill="#fffef6" stroke="#111" stroke-width="2.25" stroke-linejoin="miter" />
<polyline points="975.0,76.8 919.3,76.8 919.3,101.3 975.0,101.3" fill="none" stroke="#c2c2c2" stroke-width="1.3" />
<circle cx="911.5" cy="89.1" r="2.6" fill="#3aa64a" stroke="none" stroke-width="1"/>
<circle cx="972.1" cy="89.1" r="3.0" fill="#fa0808" stroke="none" stroke-width="1"/>
<text x="998.5" y="95.9" font-size="19" text-anchor="middle" fill="#111" stroke="#111" stroke-width="0.6" font-weight="normal" textLength="17.5" lengthAdjust="spacingAndGlyphs">33</text>
<polygon points="1043.6,72.9 1103.9,72.9 1103.9,106.8 1043.6,106.8 1028.2,97.6 1028.2,83.2" fill="#fffef6" stroke="#111" stroke-width="2.25" stroke-linejoin="miter" />
<polyline points="1100.7,76.8 1045.0,76.8 1045.0,101.3 1100.7,101.3" fill="none" stroke="#c2c2c2" stroke-width="1.3" />
<circle cx="1037.2" cy="89.1" r="2.6" fill="#3aa64a" stroke="none" stroke-width="1"/>
<circle cx="1097.8" cy="89.1" r="3.0" fill="#fa0808" stroke="none" stroke-width="1"/>
<text x="1124.2" y="95.9" font-size="19" text-anchor="middle" fill="#111" stroke="#111" stroke-width="0.6" font-weight="normal" textLength="17.5" lengthAdjust="spacingAndGlyphs">33</text>
<polygon points="792.2,125.5 852.5,125.5 852.5,159.4 792.2,159.4 776.8,150.2 776.8,135.8" fill="#fffef6" stroke="#111" stroke-width="2.25" stroke-linejoin="miter" />
<polyline points="849.3,129.4 793.6,129.4 793.6,153.9 849.3,153.9" fill="none" stroke="#c2c2c2" stroke-width="1.3" />
<circle cx="785.8" cy="141.7" r="2.6" fill="#3aa64a" stroke="none" stroke-width="1"/>
<circle cx="846.4" cy="141.7" r="3.0" fill="#fa0808" stroke="none" stroke-width="1"/>
<text x="872.8" y="148.5" font-size="19" text-anchor="middle" fill="#111" stroke="#111" stroke-width="0.6" font-weight="normal" textLength="17.5" lengthAdjust="spacingAndGlyphs">33</text>
<polygon points="917.9,125.5 978.2,125.5 978.2,159.4 917.9,159.4 902.5,150.2 902.5,135.8" fill="#fffef6" stroke="#111" stroke-width="2.25" stroke-linejoin="miter" />
<polyline points="975.0,129.4 919.3,129.4 919.3,153.9 975.0,153.9" fill="none" stroke="#c2c2c2" stroke-width="1.3" />
<circle cx="911.5" cy="141.7" r="2.6" fill="#3aa64a" stroke="none" stroke-width="1"/>
<circle cx="972.1" cy="141.7" r="3.0" fill="#fa0808" stroke="none" stroke-width="1"/>
<text x="998.5" y="148.5" font-size="19" text-anchor="middle" fill="#111" stroke="#111" stroke-width="0.6" font-weight="normal" textLength="17.5" lengthAdjust="spacingAndGlyphs">33</text>
<polygon points="792.2,178.1 852.5,178.1 852.5,212.0 792.2,212.0 776.8,202.8 776.8,188.4" fill="#fffef6" stroke="#111" stroke-width="2.25" stroke-linejoin="miter" />
<polyline points="849.3,182.0 793.6,182.0 793.6,206.5 849.3,206.5" fill="none" stroke="#c2c2c2" stroke-width="1.3" />
<circle cx="785.8" cy="194.3" r="2.6" fill="#3aa64a" stroke="none" stroke-width="1"/>
<circle cx="846.4" cy="194.3" r="3.0" fill="#fa0808" stroke="none" stroke-width="1"/>
<text x="872.8" y="201.1" font-size="19" text-anchor="middle" fill="#111" stroke="#111" stroke-width="0.6" font-weight="normal" textLength="17.5" lengthAdjust="spacingAndGlyphs">33</text>
<polygon points="917.9,178.1 978.2,178.1 978.2,212.0 917.9,212.0 902.5,202.8 902.5,188.4" fill="#fffef6" stroke="#111" stroke-width="2.25" stroke-linejoin="miter" />
<polyline points="975.0,182.0 919.3,182.0 919.3,206.5 975.0,206.5" fill="none" stroke="#c2c2c2" stroke-width="1.3" />
<circle cx="911.5" cy="194.3" r="2.6" fill="#3aa64a" stroke="none" stroke-width="1"/>
<circle cx="972.1" cy="194.3" r="3.0" fill="#fa0808" stroke="none" stroke-width="1"/>
<text x="998.5" y="201.1" font-size="19" text-anchor="middle" fill="#111" stroke="#111" stroke-width="0.6" font-weight="normal" textLength="17.5" lengthAdjust="spacingAndGlyphs">33</text>
<polygon points="695.7,266.0 732.6,266.0 732.8,293.5 735.4,293.5 735.6,266.2 769.6,267.5 768.3,294.0 768.3,393.3 781.2,393.3 781.2,402.0 774.2,409.0 781.2,417.2 781.2,424.8 768.3,424.8 768.3,481.9 781.2,481.9 781.2,490.6 774.2,497.7 781.2,505.9 781.2,513.4 768.3,513.4 768.3,612.0 769.8,640.0 735.6,640.9 735.4,612.5 732.6,612.5 732.5,641.0 695.8,641.0 695.7,513.4 683.1,513.4 683.1,505.9 690.3,497.7 683.1,490.6 683.1,481.9 695.7,481.9 695.7,424.8 683.1,424.8 683.1,417.2 690.3,409.0 683.1,401.9 683.1,393.2 695.7,393.2" fill="#fefefa" stroke="#111" stroke-width="2.25" stroke-linejoin="miter" />
<rect x="699.4" y="295.0" width="19.0" height="28.3" fill="#5c5c5c" stroke="#111" stroke-width="2.2" rx="1"/>
<rect x="699.4" y="583.5" width="19.0" height="27.9" fill="#5c5c5c" stroke="#111" stroke-width="2.2" rx="1"/>
<rect x="722.7" y="295.0" width="18.5" height="28.3" fill="#5c5c5c" stroke="#111" stroke-width="2.2" rx="1"/>
<rect x="722.7" y="583.5" width="18.5" height="27.9" fill="#5c5c5c" stroke="#111" stroke-width="2.2" rx="1"/>
<rect x="745.4" y="295.0" width="19.0" height="28.3" fill="#5c5c5c" stroke="#111" stroke-width="2.2" rx="1"/>
<rect x="745.4" y="583.5" width="19.0" height="27.9" fill="#5c5c5c" stroke="#111" stroke-width="2.2" rx="1"/>
<polyline points="695.7,329.4 768.3,329.4" fill="none" stroke="#111" stroke-width="2" stroke-dasharray="6.5 6" />
<polyline points="695.7,577.8 768.3,577.8" fill="none" stroke="#111" stroke-width="2" stroke-dasharray="6.5 6" />
<polyline points="695.7,294.0 768.3,294.3" fill="none" stroke="#111" stroke-width="2" />
<polyline points="695.7,612.2 768.3,612.2" fill="none" stroke="#111" stroke-width="2" />
<rect x="705.0" y="336.8" width="54.2" height="31.0" fill="#5c5c5c" stroke="#333" stroke-width="1.2" rx="0"/>
<rect x="705.0" y="336.8" width="17.3" height="11.8" fill="#fff" stroke="none" stroke-width="1" rx="0"/>
<rect x="742.5" y="336.8" width="16.7" height="11.8" fill="#fff" stroke="none" stroke-width="1" rx="0"/>
<rect x="723.8" y="358.0" width="16.8" height="9.8" fill="#fff" stroke="none" stroke-width="1" rx="0"/>
<circle cx="713.9" cy="343.0" r="2.7" fill="#e0101a" stroke="none" stroke-width="1"/>
<circle cx="750.9" cy="343.0" r="2.7" fill="#e0101a" stroke="none" stroke-width="1"/>
<circle cx="732.1" cy="363.1" r="2.7" fill="#e0101a" stroke="none" stroke-width="1"/>
<rect x="705.0" y="540.8" width="54.2" height="29.5" fill="#5c5c5c" stroke="#333" stroke-width="1.2" rx="0"/>
<rect x="723.8" y="540.8" width="17.8" height="9.3" fill="#fff" stroke="none" stroke-width="1" rx="0"/>
<rect x="705.0" y="559.7" width="17.4" height="10.6" fill="#fff" stroke="none" stroke-width="1" rx="0"/>
<rect x="742.7" y="559.7" width="16.5" height="10.6" fill="#fff" stroke="none" stroke-width="1" rx="0"/>
<circle cx="732.5" cy="545.3" r="2.7" fill="#e0101a" stroke="none" stroke-width="1"/>
<circle cx="713.7" cy="565.2" r="2.7" fill="#e0101a" stroke="none" stroke-width="1"/>
<circle cx="751.4" cy="565.2" r="2.7" fill="#e0101a" stroke="none" stroke-width="1"/>
<rect x="705.0" y="387.8" width="54.0" height="131.2" fill="url(#hs)" stroke="#1a0d00" stroke-width="2.2" rx="0"/>
<rect x="722.9" y="434.5" width="12.7" height="36.2" fill="#fff" stroke="#111" stroke-width="1.9" rx="2"/>
<polyline points="695.7,395.0 695.7,423.0" fill="none" stroke="#fff" stroke-width="2.6" />
<polyline points="695.7,395.0 695.7,423.0" fill="none" stroke="#111" stroke-width="1.8" stroke-dasharray="1.8 4" />
<polyline points="695.7,483.5 695.7,512.0" fill="none" stroke="#fff" stroke-width="2.6" />
<polyline points="695.7,483.5 695.7,512.0" fill="none" stroke="#111" stroke-width="1.8" stroke-dasharray="1.8 4" />
<polyline points="768.3,395.0 768.3,423.0" fill="none" stroke="#fff" stroke-width="2.6" />
<polyline points="768.3,395.0 768.3,423.0" fill="none" stroke="#111" stroke-width="1.8" stroke-dasharray="1.8 4" />
<polyline points="768.3,483.5 768.3,512.0" fill="none" stroke="#fff" stroke-width="2.6" />
<polyline points="768.3,483.5 768.3,512.0" fill="none" stroke="#111" stroke-width="1.8" stroke-dasharray="1.8 4" />
<circle cx="725.5" cy="280.6" r="4.0" fill="#fa0808" stroke="none" stroke-width="1"/>
<text x="708.5" y="280.6" font-size="13.5" text-anchor="middle" dominant-baseline="central" fill="#111" stroke="#111" stroke-width="0.6" font-weight="normal" textLength="20.0" lengthAdjust="spacingAndGlyphs" transform="rotate(180 708.5 280.6)">31c</text>
<circle cx="761.7" cy="281.6" r="4.0" fill="#fa0808" stroke="none" stroke-width="1"/>
<text x="747.4" y="281.4" font-size="13.5" text-anchor="middle" dominant-baseline="central" fill="#111" stroke="#111" stroke-width="0.6" font-weight="normal" textLength="19.0" lengthAdjust="spacingAndGlyphs" transform="rotate(182 747.4 281.4)">31d</text>
<circle cx="703.0" cy="628.3" r="4.2" fill="#fa0808" stroke="none" stroke-width="1"/>
<text x="720.9" y="628.6" font-size="13.5" text-anchor="middle" dominant-baseline="central" fill="#111" stroke="#111" stroke-width="0.6" font-weight="normal" textLength="20.0" lengthAdjust="spacingAndGlyphs">31a</text>
<circle cx="742.2" cy="628.3" r="4.2" fill="#fa0808" stroke="none" stroke-width="1"/>
<text x="757.2" y="627.6" font-size="13.5" text-anchor="middle" dominant-baseline="central" fill="#111" stroke="#111" stroke-width="0.6" font-weight="normal" textLength="19.0" lengthAdjust="spacingAndGlyphs" transform="rotate(-3 757.2 627.6)">31b</text>
<text x="651.5" y="459.5" font-size="19" text-anchor="middle" fill="#111" stroke="#111" stroke-width="0.6" font-weight="normal" textLength="15.5" lengthAdjust="spacingAndGlyphs">31</text>
<polygon points="837.7,266.3 911.1,269.3 909.3,297.5 909.3,609.0 910.8,638.0 837.6,641.3 837.4,612.0 837.4,294.0" fill="#fefefa" stroke="#111" stroke-width="2.25" stroke-linejoin="miter" />
<rect x="840.6" y="295.6" width="18.9" height="27.6" fill="#5c5c5c" stroke="#111" stroke-width="2.2" rx="1"/>
<rect x="840.6" y="583.5" width="18.9" height="27.9" fill="#5c5c5c" stroke="#111" stroke-width="2.2" rx="1"/>
<rect x="863.2" y="295.6" width="19.3" height="27.6" fill="#5c5c5c" stroke="#111" stroke-width="2.2" rx="1"/>
<rect x="863.2" y="583.5" width="19.3" height="27.9" fill="#5c5c5c" stroke="#111" stroke-width="2.2" rx="1"/>
<rect x="886.3" y="295.6" width="19.3" height="27.6" fill="#5c5c5c" stroke="#111" stroke-width="2.2" rx="1"/>
<rect x="886.3" y="583.5" width="19.3" height="27.9" fill="#5c5c5c" stroke="#111" stroke-width="2.2" rx="1"/>
<polyline points="837.4,329.3 909.3,329.3" fill="none" stroke="#111" stroke-width="2" stroke-dasharray="6.5 6" />
<polyline points="837.4,577.8 909.3,577.8" fill="none" stroke="#111" stroke-width="2" stroke-dasharray="6.5 6" />
<polyline points="837.4,294.3 909.3,297.6" fill="none" stroke="#111" stroke-width="2" />
<polyline points="837.4,612.4 909.3,609.5" fill="none" stroke="#111" stroke-width="2" />
<rect x="846.1" y="336.7" width="54.2" height="30.6" fill="#5c5c5c" stroke="#333" stroke-width="1.2" rx="0"/>
<rect x="846.1" y="336.7" width="17.7" height="11.8" fill="#fff" stroke="none" stroke-width="1" rx="0"/>
<rect x="883.0" y="336.7" width="17.3" height="11.8" fill="#fff" stroke="none" stroke-width="1" rx="0"/>
<circle cx="855.0" cy="342.8" r="2.7" fill="#e0101a" stroke="none" stroke-width="1"/>
<circle cx="891.9" cy="342.8" r="2.7" fill="#e0101a" stroke="none" stroke-width="1"/>
<rect x="846.1" y="540.8" width="54.2" height="29.5" fill="#5c5c5c" stroke="#333" stroke-width="1.2" rx="0"/>
<rect x="846.1" y="559.7" width="17.7" height="10.6" fill="#fff" stroke="none" stroke-width="1" rx="0"/>
<rect x="883.0" y="559.7" width="17.3" height="10.6" fill="#fff" stroke="none" stroke-width="1" rx="0"/>
<circle cx="855.0" cy="565.2" r="2.7" fill="#e0101a" stroke="none" stroke-width="1"/>
<circle cx="891.9" cy="565.2" r="2.7" fill="#e0101a" stroke="none" stroke-width="1"/>
<rect x="846.2" y="387.8" width="54.0" height="131.2" fill="url(#hs)" stroke="#1a0d00" stroke-width="2.2" rx="0"/>
<rect x="861.9" y="428.9" width="16.0" height="16.0" fill="#fff" stroke="#111" stroke-width="1.9" rx="3"/>
<rect x="861.9" y="462.4" width="16.0" height="16.4" fill="#fff" stroke="#111" stroke-width="1.9" rx="3"/>
<circle cx="885.5" cy="282.1" r="4.4" fill="#fa0808" stroke="none" stroke-width="1"/>
<text x="868.7" y="281.3" font-size="13.5" text-anchor="middle" dominant-baseline="central" fill="#111" stroke="#111" stroke-width="0.6" font-weight="normal" textLength="20.0" lengthAdjust="spacingAndGlyphs" transform="rotate(182 868.7 281.3)">32b</text>
<circle cx="863.3" cy="627.3" r="4.4" fill="#fa0808" stroke="none" stroke-width="1"/>
<text x="880.5" y="627.5" font-size="13.5" text-anchor="middle" dominant-baseline="central" fill="#111" stroke="#111" stroke-width="0.6" font-weight="normal" textLength="20.0" lengthAdjust="spacingAndGlyphs">32a</text>
<text x="941.3" y="459.5" font-size="19" text-anchor="middle" fill="#111" stroke="#111" stroke-width="0.6" font-weight="normal" textLength="18.0" lengthAdjust="spacingAndGlyphs">32</text>
<polygon points="704.8,690.8 736.5,690.8 747.1,729.3 747.1,772.0 877.4,772.0 877.4,729.3 885.5,690.8 918.1,690.8 928.6,729.3 928.6,772.0 969.7,793.6 971.2,883.3 931.3,906.5 931.3,1072.8 877.6,1070.6 916.1,1082.6 916.6,1114.1 875.8,1124.6 854.1,1164.6 769.2,1164.6 747.4,1124.6 706.5,1114.1 709.4,1082.6 745.3,1070.6 694.1,1072.8 694.5,906.5 652.5,883.3 654.0,793.6 695.8,772.0 695.8,729.3" fill="#fff" stroke="none" stroke-width="0" stroke-linejoin="miter" />
<polygon points="704.8,690.8 736.5,690.8 747.1,729.3 747.1,1071.0 694.1,1072.8 695.8,772.0 695.8,729.3" fill="#fdfcf4" stroke="none" stroke-width="0" stroke-linejoin="miter" />
<polygon points="885.5,690.8 918.1,690.8 928.6,729.3 928.6,772.0 931.3,1072.8 877.4,1071.0 877.4,729.3" fill="#fdfcf4" stroke="none" stroke-width="0" stroke-linejoin="miter" />
<rect x="746.4" y="1072.3" width="130.5" height="52.3" fill="#fdfcf4" stroke="none" stroke-width="1" rx="0"/>
<rect x="747.1" y="772.0" width="130.3" height="112.2" fill="url(#vs)" stroke="none" stroke-width="1" rx="0"/>
<rect x="746.8" y="955.9" width="130.3" height="45.5" fill="url(#vs)" stroke="none" stroke-width="1" rx="0"/>
<polygon points="704.8,690.8 736.5,690.8 747.1,729.3 747.1,772.0 877.4,772.0 877.4,729.3 885.5,690.8 918.1,690.8 928.6,729.3 928.6,772.0 969.7,793.6 971.2,883.3 931.3,906.5 931.3,1072.8 877.6,1070.6 916.1,1082.6 916.6,1114.1 875.8,1124.6 854.1,1164.6 769.2,1164.6 747.4,1124.6 706.5,1114.1 709.4,1082.6 745.3,1070.6 694.1,1072.8 694.5,906.5 652.5,883.3 654.0,793.6 695.8,772.0 695.8,729.3" fill="none" stroke="#111" stroke-width="2.25" stroke-linejoin="miter" />
<polyline points="695.8,729.3 747.1,729.3" fill="none" stroke="#111" stroke-width="1.9" stroke-dasharray="14 7.5" />
<polyline points="695.8,754.0 747.1,754.0" fill="none" stroke="#111" stroke-width="1.9" stroke-dasharray="14 7.5" />
<polyline points="695.8,772.0 747.1,772.0" fill="none" stroke="#111" stroke-width="2.2" stroke-dasharray="11 4 2 4" />
<polyline points="877.4,729.3 928.6,729.3" fill="none" stroke="#111" stroke-width="1.9" stroke-dasharray="14 7.5" />
<polyline points="877.4,754.0 928.6,754.0" fill="none" stroke="#111" stroke-width="1.9" stroke-dasharray="14 7.5" />
<polyline points="877.4,772.0 928.6,772.0" fill="none" stroke="#111" stroke-width="2.2" stroke-dasharray="11 4 2 4" />
<polyline points="695.5,776.0 694.3,907.0" fill="none" stroke="#111" stroke-width="1.8" stroke-dasharray="10 5.5" />
<polyline points="929.0,776.0 931.0,907.0" fill="none" stroke="#111" stroke-width="1.8" stroke-dasharray="10 5.5" />
<polyline points="746.6,772.0 746.6,1124.0" fill="none" stroke="#111" stroke-width="2" stroke-dasharray="10 5.5" />
<polyline points="877.2,772.0 877.2,1124.0" fill="none" stroke="#111" stroke-width="2" stroke-dasharray="10 5.5" />
<polyline points="746.4,1072.3 877.0,1072.3" fill="none" stroke="#111" stroke-width="1.9" stroke-dasharray="11 6" />
<polyline points="747.4,1124.6 876.0,1124.6" fill="none" stroke="#111" stroke-width="1.9" stroke-dasharray="11 6" />
<rect x="769.1" y="785.7" width="34.8" height="9.4" fill="#fff" stroke="#111" stroke-width="1.9" rx="1"/>
<rect x="817.2" y="785.7" width="35.0" height="9.4" fill="#fff" stroke="#111" stroke-width="1.9" rx="1"/>
<rect x="769.1" y="804.9" width="82.6" height="32.1" fill="#e37a44" stroke="#1a0d00" stroke-width="2.2" rx="1.5"/>
<rect x="775.4" y="808.6" width="19.2" height="6.9" fill="#ee8850" stroke="#1a0d00" stroke-width="1.7" rx="1"/>
<rect x="775.4" y="825.8" width="19.2" height="6.9" fill="#ee8850" stroke="#1a0d00" stroke-width="1.7" rx="1"/>
<rect x="800.7" y="808.6" width="19.2" height="6.9" fill="#ee8850" stroke="#1a0d00" stroke-width="1.7" rx="1"/>
<rect x="800.7" y="825.8" width="19.2" height="6.9" fill="#ee8850" stroke="#1a0d00" stroke-width="1.7" rx="1"/>
<rect x="826.0" y="808.6" width="19.2" height="6.9" fill="#ee8850" stroke="#1a0d00" stroke-width="1.7" rx="1"/>
<rect x="826.0" y="825.8" width="19.2" height="6.9" fill="#ee8850" stroke="#1a0d00" stroke-width="1.7" rx="1"/>
<polyline points="770.0,821.0 851.0,821.0" fill="none" stroke="#1a0d00" stroke-width="1.6" />
<rect x="808.0" y="858.9" width="24.0" height="8.0" fill="#fff" stroke="#111" stroke-width="2.25" rx="0"/>
<circle cx="771.3" cy="863.2" r="8.7" fill="#fff" stroke="#111" stroke-width="2.2"/>
<circle cx="771.3" cy="863.2" r="4.0" fill="#b5b5b5" stroke="#111" stroke-width="2.25"/>
<circle cx="799.0" cy="863.2" r="9.6" fill="#a7a7a7" stroke="#111" stroke-width="2.3"/>
<circle cx="830.6" cy="863.2" r="9.6" fill="#a7a7a7" stroke="#111" stroke-width="2.3"/>
<rect x="811.2" y="858.7" width="7.5" height="8.2" fill="#fff" stroke="#111" stroke-width="1.2" rx="0"/>
<rect x="850.8" y="855.9" width="8.2" height="14.0" fill="#fff" stroke="#111" stroke-width="2" rx="1"/>
<rect x="777.9" y="969.0" width="21.8" height="21.7" fill="#fff" stroke="#111" stroke-width="2.2" rx="1"/>
<rect x="821.0" y="969.0" width="21.7" height="21.7" fill="#fff" stroke="#111" stroke-width="2.2" rx="1"/>
<circle cx="812.1" cy="920.0" r="4.4" fill="#1aa7d8" stroke="none" stroke-width="1"/>
<circle cx="812.1" cy="1035.8" r="4.4" fill="#1aa7d8" stroke="none" stroke-width="1"/>
<rect x="698.6" y="792.9" width="41.4" height="19.4" fill="#fff" stroke="#bdbdbd" stroke-width="1.5" rx="2.5"/>
<rect x="698.6" y="843.0" width="41.4" height="19.4" fill="#fff" stroke="#bdbdbd" stroke-width="1.5" rx="2.5"/>
<rect x="698.6" y="911.1" width="41.4" height="19.8" fill="#fff" stroke="#bdbdbd" stroke-width="1.5" rx="2.5"/>
<polyline points="716.0,816.8 716.0,838.5" fill="none" stroke="#6a1510" stroke-width="1.8" />
<polyline points="716.0,866.9 715.6,907.0" fill="none" stroke="#6a1510" stroke-width="1.8" />
<polyline points="714.4,942.2 714.4,1063.0" fill="none" stroke="#6a1510" stroke-width="1.8" />
<circle cx="731.8" cy="824.0" r="3.2" fill="#14243a" stroke="none" stroke-width="1"/>
<circle cx="731.8" cy="946.6" r="3.2" fill="#14243a" stroke="none" stroke-width="1"/>
<circle cx="731.8" cy="1009.7" r="3.2" fill="#14243a" stroke="none" stroke-width="1"/>
<circle cx="731.8" cy="1033.2" r="3.2" fill="#14243a" stroke="none" stroke-width="1"/>
<circle cx="731.8" cy="1056.4" r="3.2" fill="#14243a" stroke="none" stroke-width="1"/>
<rect x="726.5" y="873.6" width="13.9" height="14.2" fill="#bcbcbc" stroke="#d6d6d6" stroke-width="1.5" rx="0"/>
<circle cx="733.0" cy="985.7" r="7.3" fill="none" stroke="#d3121a" stroke-width="4.2"/>
<path d="M722.7 985.7L743.3 985.7M733.0 975.4L733.0 996.0" stroke="#fff" stroke-width="2.6" transform="rotate(45 733.0 985.7)"/>
<circle cx="733.0" cy="985.7" r="9.3" fill="none" stroke="#b00d14" stroke-width="0.6"/>
<circle cx="726.3" cy="1098.9" r="3.8" fill="#3aa64a" stroke="none" stroke-width="1"/>
<rect x="884.4" y="792.9" width="41.4" height="19.4" fill="#fff" stroke="#bdbdbd" stroke-width="1.5" rx="2.5"/>
<rect x="884.4" y="843.0" width="41.4" height="19.4" fill="#fff" stroke="#bdbdbd" stroke-width="1.5" rx="2.5"/>
<rect x="884.4" y="911.1" width="41.4" height="19.8" fill="#fff" stroke="#bdbdbd" stroke-width="1.5" rx="2.5"/>
<polyline points="908.4,816.8 908.4,838.5" fill="none" stroke="#6a1510" stroke-width="1.8" />
<polyline points="908.4,866.9 908.8,907.0" fill="none" stroke="#6a1510" stroke-width="1.8" />
<polyline points="910.0,942.2 910.0,1063.0" fill="none" stroke="#6a1510" stroke-width="1.8" />
<circle cx="892.6" cy="824.0" r="3.2" fill="#14243a" stroke="none" stroke-width="1"/>
<circle cx="892.6" cy="946.6" r="3.2" fill="#14243a" stroke="none" stroke-width="1"/>
<circle cx="892.6" cy="1009.7" r="3.2" fill="#14243a" stroke="none" stroke-width="1"/>
<circle cx="892.6" cy="1033.2" r="3.2" fill="#14243a" stroke="none" stroke-width="1"/>
<circle cx="892.6" cy="1056.4" r="3.2" fill="#14243a" stroke="none" stroke-width="1"/>
<rect x="884.0" y="873.6" width="13.9" height="14.2" fill="#bcbcbc" stroke="#d6d6d6" stroke-width="1.5" rx="0"/>
<circle cx="891.4" cy="985.7" r="7.3" fill="none" stroke="#d3121a" stroke-width="4.2"/>
<path d="M881.1 985.7L901.7 985.7M891.4 975.4L891.4 996.0" stroke="#fff" stroke-width="2.6" transform="rotate(45 891.4 985.7)"/>
<circle cx="891.4" cy="985.7" r="9.3" fill="none" stroke="#b00d14" stroke-width="0.6"/>
<circle cx="898.1" cy="1098.9" r="3.8" fill="#3aa64a" stroke="none" stroke-width="1"/>
<circle cx="721.3" cy="699.0" r="4.0" fill="#fa0808" stroke="none" stroke-width="1"/>
<text x="720.5" y="716.8" font-size="11.5" text-anchor="middle" dominant-baseline="central" fill="#111" stroke="#111" stroke-width="0.15" font-weight="bold" textLength="19.0" lengthAdjust="spacingAndGlyphs" transform="rotate(90 720.5 716.8)">30d</text>
<circle cx="902.4" cy="720.7" r="4.0" fill="#fa0808" stroke="none" stroke-width="1"/>
<text x="902.0" y="704.0" font-size="11.5" text-anchor="middle" dominant-baseline="central" fill="#111" stroke="#111" stroke-width="0.15" font-weight="bold" textLength="19.0" lengthAdjust="spacingAndGlyphs" transform="rotate(-90 902.0 704.0)">30e</text>
<circle cx="672.2" cy="824.7" r="6.3" fill="#fa0808" stroke="none" stroke-width="1"/>
<text x="672.2" y="849.3" font-size="18" text-anchor="middle" dominant-baseline="central" fill="#111" stroke="#111" stroke-width="0.6" font-weight="normal" textLength="27.0" lengthAdjust="spacingAndGlyphs" transform="rotate(90 672.2 849.3)">30c</text>
<circle cx="951.0" cy="853.9" r="6.3" fill="#fa0808" stroke="none" stroke-width="1"/>
<text x="951.3" y="830.0" font-size="18" text-anchor="middle" dominant-baseline="central" fill="#111" stroke="#111" stroke-width="0.6" font-weight="normal" textLength="27.0" lengthAdjust="spacingAndGlyphs" transform="rotate(-90 951.3 830.0)">30a</text>
<circle cx="796.4" cy="1145.2" r="6.3" fill="#fa0808" stroke="none" stroke-width="1"/>
<text x="821.6" y="1145.6" font-size="18" text-anchor="middle" dominant-baseline="central" fill="#111" stroke="#111" stroke-width="0.6" font-weight="normal" textLength="26.5" lengthAdjust="spacingAndGlyphs">30b</text>
<text x="810.3" y="748.8" font-size="19" text-anchor="middle" fill="#111" stroke="#111" stroke-width="0.6" font-weight="normal" textLength="17.5" lengthAdjust="spacingAndGlyphs">30</text>
<polygon points="603.5,1201.3 631.5,1174.4 672.8,1174.4 703.3,1201.3 703.3,1298.7 760.9,1298.7 782.6,1307.4 782.6,1329.6 760.9,1338.5 735.7,1359.3 727.2,1359.3 703.5,1338.3 698.9,1338.3 672.8,1365.9 631.5,1365.9 603.5,1338.3 603.5,1298.7 602.0,1300.6 593.7,1321.4 570.5,1321.4 561.8,1296.3 541.5,1266.5 561.8,1244.0 570.5,1219.0 593.7,1219.0 602.0,1239.0 603.5,1241.2" fill="#fff" stroke="none" stroke-width="0" stroke-linejoin="miter" />
<rect x="603.5" y="1201.3" width="99.8" height="137.0" fill="#fbfaf4" stroke="none" stroke-width="1" rx="0"/>
<rect x="703.3" y="1298.7" width="57.5" height="39.6" fill="#fbfaf4" stroke="none" stroke-width="1" rx="0"/>
<rect x="604.0" y="1241.2" width="99.0" height="57.5" fill="#fff" stroke="none" stroke-width="1" rx="0"/>
<polyline points="604.0,1204.8 703.0,1204.8" fill="none" stroke="#a8a8a8" stroke-width="3.2" />
<polyline points="604.0,1336.0 760.0,1336.0" fill="none" stroke="#a8a8a8" stroke-width="3.6" />
<polyline points="625.7,1216.5 695.3,1216.5" fill="none" stroke="#5a5a5a" stroke-width="1.6" />
<polyline points="625.7,1323.4 695.3,1323.4" fill="none" stroke="#5a5a5a" stroke-width="1.6" />
<polyline points="625.7,1236.8 695.3,1236.8" fill="none" stroke="#5e1212" stroke-width="2.2" />
<polyline points="625.7,1302.8 695.3,1302.8" fill="none" stroke="#5e1212" stroke-width="2.2" />
<rect x="673.8" y="1230.5" width="4.0" height="1.8" fill="#c81822" stroke="none" stroke-width="1" rx="0"/>
<rect x="673.8" y="1308.9" width="4.0" height="1.8" fill="#c81822" stroke="none" stroke-width="1" rx="0"/>
<polygon points="603.5,1201.3 631.5,1174.4 672.8,1174.4 703.3,1201.3 703.3,1298.7 760.9,1298.7 782.6,1307.4 782.6,1329.6 760.9,1338.5 735.7,1359.3 727.2,1359.3 703.5,1338.3 698.9,1338.3 672.8,1365.9 631.5,1365.9 603.5,1338.3 603.5,1298.7 602.0,1300.6 593.7,1321.4 570.5,1321.4 561.8,1296.3 541.5,1266.5 561.8,1244.0 570.5,1219.0 593.7,1219.0 602.0,1239.0 603.5,1241.2" fill="none" stroke="#111" stroke-width="2.25" stroke-linejoin="miter" />
<polyline points="603.5,1201.6 703.3,1201.6" fill="none" stroke="#111" stroke-width="2" stroke-dasharray="10 5.5" />
<polyline points="603.5,1338.2 700.0,1338.2" fill="none" stroke="#111" stroke-width="2" stroke-dasharray="10 5.5" />
<polyline points="562.6,1241.2 703.3,1241.2" fill="none" stroke="#111" stroke-width="2" stroke-dasharray="10 5.5" />
<polyline points="562.6,1298.7 703.3,1298.7" fill="none" stroke="#111" stroke-width="2" stroke-dasharray="10 5.5" />
<polyline points="562.6,1244.0 562.6,1296.0" fill="none" stroke="#111" stroke-width="1.9" stroke-dasharray="9 5.5" />
<polyline points="604.0,1243.0 604.0,1298.0" fill="none" stroke="#111" stroke-width="1.9" stroke-dasharray="9 5.5" />
<polyline points="703.6,1302.0 703.6,1338.0" fill="none" stroke="#111" stroke-width="1.9" stroke-dasharray="9 7" />
<polyline points="760.5,1303.0 760.5,1338.0" fill="none" stroke="#111" stroke-width="1.9" stroke-dasharray="9 7" />
<rect x="628.6" y="1247.0" width="50.0" height="47.1" fill="#fff" stroke="#2a2a2a" stroke-width="1.5" rx="1"/>
<polyline points="628.6,1270.6 678.6,1270.6" fill="none" stroke="#2a2a2a" stroke-width="1.5" />
<rect x="634.7" y="1250.8" width="15.2" height="14.8" fill="#fdfdfd" stroke="#d2d6dc" stroke-width="1" rx="3"/>
<circle cx="638.7" cy="1254.8" r="1.7" fill="#111" stroke="none" stroke-width="1"/>
<circle cx="638.7" cy="1261.6" r="1.7" fill="#111" stroke="none" stroke-width="1"/>
<circle cx="645.9" cy="1254.8" r="1.7" fill="#111" stroke="none" stroke-width="1"/>
<circle cx="645.9" cy="1261.6" r="1.7" fill="#111" stroke="none" stroke-width="1"/>
<rect x="655.0" y="1250.8" width="15.2" height="14.8" fill="#fdfdfd" stroke="#d2d6dc" stroke-width="1" rx="3"/>
<circle cx="659.0" cy="1254.8" r="1.7" fill="#111" stroke="none" stroke-width="1"/>
<circle cx="659.0" cy="1261.6" r="1.7" fill="#111" stroke="none" stroke-width="1"/>
<circle cx="666.2" cy="1254.8" r="1.7" fill="#111" stroke="none" stroke-width="1"/>
<circle cx="666.2" cy="1261.6" r="1.7" fill="#111" stroke="none" stroke-width="1"/>
<rect x="634.7" y="1274.9" width="15.2" height="14.8" fill="#fdfdfd" stroke="#d2d6dc" stroke-width="1" rx="3"/>
<circle cx="638.7" cy="1278.9" r="1.7" fill="#111" stroke="none" stroke-width="1"/>
<circle cx="638.7" cy="1285.7" r="1.7" fill="#111" stroke="none" stroke-width="1"/>
<circle cx="645.9" cy="1278.9" r="1.7" fill="#111" stroke="none" stroke-width="1"/>
<circle cx="645.9" cy="1285.7" r="1.7" fill="#111" stroke="none" stroke-width="1"/>
<rect x="655.0" y="1274.9" width="15.2" height="14.8" fill="#fdfdfd" stroke="#d2d6dc" stroke-width="1" rx="3"/>
<circle cx="659.0" cy="1278.9" r="1.7" fill="#111" stroke="none" stroke-width="1"/>
<circle cx="659.0" cy="1285.7" r="1.7" fill="#111" stroke="none" stroke-width="1"/>
<circle cx="666.2" cy="1278.9" r="1.7" fill="#111" stroke="none" stroke-width="1"/>
<circle cx="666.2" cy="1285.7" r="1.7" fill="#111" stroke="none" stroke-width="1"/>
<circle cx="692.4" cy="1252.3" r="3.3" fill="#fff" stroke="#111" stroke-width="1.5"/>
<circle cx="692.4" cy="1289.0" r="3.3" fill="#fff" stroke="#111" stroke-width="1.5"/>
<rect x="681.5" y="1260.0" width="21.8" height="20.3" fill="#fff" stroke="#111" stroke-width="2.25" rx="0"/>
<rect x="725.6" y="1290.0" width="12.2" height="18.8" fill="#fff" stroke="#111" stroke-width="2" rx="0"/>
<ellipse cx="731.7" cy="1284.2" rx="6.4" ry="9" fill="#fff" stroke="#111" stroke-width="2"/>
<rect x="726.7" y="1293.0" width="10.0" height="14.6" fill="#fff" stroke="none" stroke-width="1" rx="0"/>
<path d="M713.4 1320 V1315 a3.6 3.6 0 0 1 7.2 0 V1320" fill="none" stroke="#e0121a" stroke-width="3"/>
<path d="M742.7 1320 V1315 a3.6 3.6 0 0 1 7.2 0 V1320" fill="none" stroke="#e0121a" stroke-width="3"/>
<ellipse cx="731.7" cy="1313.8" rx="3.4" ry="1.5" fill="#333"/>
<rect x="720.1" y="1325.2" width="23.5" height="13.0" fill="#f20d0d" stroke="none" stroke-width="1" rx="0"/>
<polyline points="718.0,1338.6 729.0,1338.6" fill="none" stroke="#111" stroke-width="2" />
<polyline points="741.0,1338.6 752.0,1338.6" fill="none" stroke="#111" stroke-width="2" />
<circle cx="771.1" cy="1318.5" r="4.0" fill="#3aa64a" stroke="none" stroke-width="1"/>
<circle cx="582.9" cy="1229.8" r="4.0" fill="#3aa64a" stroke="none" stroke-width="1"/>
<circle cx="582.9" cy="1309.3" r="4.0" fill="#3aa64a" stroke="none" stroke-width="1"/>
<circle cx="583.6" cy="1258.6" r="5.0" fill="#fa0808" stroke="none" stroke-width="1"/>
<text x="581.7" y="1276.2" font-size="14" text-anchor="middle" dominant-baseline="central" fill="#111" stroke="#111" stroke-width="0.6" font-weight="normal" textLength="20.0" lengthAdjust="spacingAndGlyphs" transform="rotate(90 581.7 1276.2)">26e</text>
<circle cx="556.0" cy="1260.7" r="3.2" fill="#fa0808" stroke="none" stroke-width="1"/>
<text x="554.4" y="1274.5" font-size="8.5" text-anchor="middle" dominant-baseline="central" fill="#111" stroke="#111" stroke-width="0.15" font-weight="bold" textLength="12.0" lengthAdjust="spacingAndGlyphs" transform="rotate(80 554.4 1274.5)">26c</text>
<circle cx="666.6" cy="1188.2" r="5.0" fill="#fa0808" stroke="none" stroke-width="1"/>
<text x="648.1" y="1188.4" font-size="15" text-anchor="middle" dominant-baseline="central" fill="#111" stroke="#111" stroke-width="0.6" font-weight="normal" textLength="21.0" lengthAdjust="spacingAndGlyphs" transform="rotate(180 648.1 1188.4)">26d</text>
<circle cx="642.0" cy="1353.1" r="5.0" fill="#fa0808" stroke="none" stroke-width="1"/>
<text x="660.5" y="1353.6" font-size="15" text-anchor="middle" dominant-baseline="central" fill="#111" stroke="#111" stroke-width="0.6" font-weight="normal" textLength="21.0" lengthAdjust="spacingAndGlyphs">26b</text>
<circle cx="721.0" cy="1345.1" r="3.2" fill="#fa0808" stroke="none" stroke-width="1"/>
<text x="734.8" y="1346.0" font-size="8.5" text-anchor="middle" dominant-baseline="central" fill="#111" stroke="#111" stroke-width="0.15" font-weight="bold" textLength="13.0" lengthAdjust="spacingAndGlyphs">26a</text>
<text x="662.7" y="1398.5" font-size="19" text-anchor="middle" fill="#111" stroke="#111" stroke-width="0.6" font-weight="normal" textLength="17.0" lengthAdjust="spacingAndGlyphs">26</text>
<polygon points="908.7,1206.1 957.0,1231.3 1008.4,1212.2 1052.7,1271.6 1018.5,1311.9 1093.2,1317.5 1150.4,1317.5 1225.8,1313.3 1231.3,1393.9 1167.1,1454.7 1146.2,1456.4 1121.6,1388.7 1098.3,1456.4 1077.5,1454.7 1013.4,1395.1 969.1,1392.1 955.0,1308.9 948.0,1308.9 925.8,1389.4 881.5,1387.0 827.5,1376.3 827.1,1363.2 888.5,1299.8 896.6,1217.2" fill="#fff" stroke="#111" stroke-width="2.25" stroke-linejoin="miter" />
<polygon points="957.0,1232.6 936.9,1254.3 975.2,1254.9" fill="url(#vs)" stroke="none" stroke-width="0" stroke-linejoin="miter" />
<polyline points="890.0,1298.5 936.9,1254.3" fill="none" stroke="#111" stroke-width="2.3" stroke-dasharray="11 6.5" />
<polyline points="975.2,1254.9 1013.5,1306.0" fill="none" stroke="#111" stroke-width="2.3" stroke-dasharray="11 6.5" />
<polyline points="889.5,1304.5 1018.0,1312.0" fill="none" stroke="#111" stroke-width="2.3" stroke-dasharray="11 6.5" />
<polyline points="885.5,1307.0 881.5,1387.0" fill="none" stroke="#111" stroke-width="2.3" stroke-dasharray="11 6.5" />
<polyline points="1018.0,1313.0 1013.4,1395.0" fill="none" stroke="#111" stroke-width="2.3" stroke-dasharray="11 6.5" />
<polyline points="957.0,1231.3 936.9,1254.3" fill="none" stroke="#111" stroke-width="2.25" />
<polyline points="957.0,1231.3 975.2,1254.9" fill="none" stroke="#111" stroke-width="1.2" />
<circle cx="915.3" cy="1238.3" r="5.8" fill="#3aa64a" stroke="none" stroke-width="1"/>
<circle cx="1010.0" cy="1256.9" r="5.8" fill="#3aa64a" stroke="none" stroke-width="1"/>
<circle cx="857.3" cy="1361.8" r="5.8" fill="#3aa64a" stroke="none" stroke-width="1"/>
<circle cx="954.0" cy="1277.6" r="5.8" fill="#1aa7d8" stroke="none" stroke-width="1"/>
<polygon points="1111.5,298.3 1133.0,298.3 1139.7,688.0 1152.1,675.0 1174.0,688.5 1174.0,695.5 1140.0,706.0 1144.4,964.5 1162.4,950.3 1186.3,965.5 1186.3,972.0 1144.7,981.0 1151.1,1356.7 1092.4,1356.7 1099.2,981.0 1055.7,972.0 1055.7,965.5 1079.1,950.3 1099.5,964.5 1104.2,706.0 1069.5,695.5 1069.5,688.5 1089.3,675.0 1104.5,688.0" fill="#c96a36" stroke="none" stroke-width="0" stroke-linejoin="miter" />
<polygon points="1111.5,298.3 1133.0,298.3 1133.5,328.5 1111.0,328.5" fill="#fff" stroke="none" stroke-width="0" stroke-linejoin="miter" />
<polygon points="1089.3,675.0 1069.5,688.3 1102.3,688.3" fill="#fff" stroke="none" stroke-width="0" stroke-linejoin="miter" />
<polyline points="1072.5,687.7 1099.3,687.7" fill="none" stroke="#222" stroke-width="1.3" stroke-dasharray="3.2 2.6" />
<polygon points="1152.1,675.0 1140.6,688.3 1174.0,688.3" fill="#fff" stroke="none" stroke-width="0" stroke-linejoin="miter" />
<polyline points="1143.6,687.7 1171.0,687.7" fill="none" stroke="#222" stroke-width="1.3" stroke-dasharray="3.2 2.6" />
<polygon points="1079.1,950.3 1055.7,965.2 1095.5,965.2" fill="#fff" stroke="none" stroke-width="0" stroke-linejoin="miter" />
<polyline points="1058.7,964.6 1092.5,964.6" fill="none" stroke="#222" stroke-width="1.3" stroke-dasharray="3.2 2.6" />
<polygon points="1162.4,950.3 1146.1,965.2 1186.3,965.2" fill="#fff" stroke="none" stroke-width="0" stroke-linejoin="miter" />
<polyline points="1149.1,964.6 1183.3,964.6" fill="none" stroke="#222" stroke-width="1.3" stroke-dasharray="3.2 2.6" />
<polyline points="1093.2,1317.5 1099.2,981.0 1055.7,972.0 1055.7,965.5 1079.1,950.3 1099.5,964.5 1104.2,706.0 1069.5,695.5 1069.5,688.5 1089.3,675.0 1104.5,688.0 1111.5,298.3" fill="none" stroke="#1a0d05" stroke-width="2.3" />
<polyline points="1111.5,298.3 1133.0,298.3 1139.7,688.0 1152.1,675.0 1174.0,688.5 1174.0,695.5 1140.0,706.0 1144.4,964.5 1162.4,950.3 1186.3,965.5 1186.3,972.0 1144.7,981.0 1151.1,1356.7 1150.4,1317.5" fill="none" stroke="#1a0d05" stroke-width="2.3" />
<polyline points="1121.5,252.0 1121.5,1466.0" fill="none" stroke="#3a2a1a" stroke-width="1.6" stroke-dasharray="12 10.6" />
<polygon points="1109.9,384.6 1134.5,384.6 1134.7,396.8 1109.7,396.8" fill="#fff" stroke="#1a0d05" stroke-width="1.9" stroke-linejoin="miter" />
<polyline points="1121.5,385.6 1121.5,395.8" fill="none" stroke="#fff" stroke-width="2.4" />
<circle cx="1121.7" cy="390.7" r="2.7" fill="#1c9fc8" stroke="none" stroke-width="1"/>
<polygon points="1107.1,544.0 1137.2,544.0 1137.4,556.7 1106.8,556.7" fill="#fff" stroke="#1a0d05" stroke-width="1.9" stroke-linejoin="miter" />
<polyline points="1121.5,545.0 1121.5,555.7" fill="none" stroke="#fff" stroke-width="2.4" />
<circle cx="1121.7" cy="550.4" r="2.7" fill="#1c9fc8" stroke="none" stroke-width="1"/>
<polygon points="1103.9,722.4 1140.3,722.4 1140.5,734.1 1103.7,734.1" fill="#fff" stroke="#1a0d05" stroke-width="1.9" stroke-linejoin="miter" />
<polyline points="1121.5,723.4 1121.5,733.1" fill="none" stroke="#fff" stroke-width="2.4" />
<circle cx="1121.7" cy="728.2" r="2.7" fill="#1c9fc8" stroke="none" stroke-width="1"/>
<polygon points="1101.2,870.0 1142.8,870.0 1143.0,882.5 1101.0,882.5" fill="#fff" stroke="#1a0d05" stroke-width="1.9" stroke-linejoin="miter" />
<polyline points="1121.5,871.0 1121.5,881.5" fill="none" stroke="#fff" stroke-width="2.4" />
<circle cx="1121.7" cy="876.2" r="2.7" fill="#1c9fc8" stroke="none" stroke-width="1"/>
<polygon points="1098.6,1014.0 1145.2,1014.0 1145.4,1026.2 1098.4,1026.2" fill="#fff" stroke="#1a0d05" stroke-width="1.9" stroke-linejoin="miter" />
<polyline points="1121.5,1015.0 1121.5,1025.2" fill="none" stroke="#fff" stroke-width="2.4" />
<circle cx="1121.7" cy="1020.1" r="2.7" fill="#1c9fc8" stroke="none" stroke-width="1"/>
<circle cx="1089.3" cy="683.5" r="3.0" fill="#1c9fc8" stroke="none" stroke-width="1"/>
<circle cx="1152.1" cy="683.5" r="3.0" fill="#1c9fc8" stroke="none" stroke-width="1"/>
<circle cx="1078.5" cy="959.5" r="3.0" fill="#1c9fc8" stroke="none" stroke-width="1"/>
<circle cx="1162.8" cy="959.5" r="3.0" fill="#1c9fc8" stroke="none" stroke-width="1"/>
<rect x="1122.8" y="336.0" width="8.6" height="21.7" fill="#fff" stroke="#1a0d05" stroke-width="1.6" rx="2"/>
<circle cx="1126.9" cy="341.8" r="1.9" fill="#fa0808" stroke="none" stroke-width="1"/>
<rect x="1125.4" y="346.0" width="3.2" height="9.0" fill="#b9bcc4" stroke="none" stroke-width="1" rx="0"/>
<rect x="1123.5" y="494.5" width="9.8" height="25.5" fill="#fff" stroke="#1a0d05" stroke-width="1.6" rx="2"/>
<circle cx="1128.2" cy="500.6" r="2.5" fill="#fa0808" stroke="none" stroke-width="1"/>
<text x="1128.4" y="511.0" font-size="6" text-anchor="middle" fill="#222" stroke="#222" stroke-width="0.3" font-weight="normal" textLength="9.0" lengthAdjust="spacingAndGlyphs" transform="rotate(90 1128.4 511.0)">54a</text>
<rect x="1123.8" y="612.0" width="11.9" height="27.8" fill="#fff" stroke="#1a0d05" stroke-width="1.6" rx="2"/>
<circle cx="1129.6" cy="618.1" r="3.0" fill="#fa0808" stroke="none" stroke-width="1"/>
<text x="1129.8" y="630.0" font-size="7.5" text-anchor="middle" fill="#222" stroke="#222" stroke-width="0.3" font-weight="normal" textLength="12.0" lengthAdjust="spacingAndGlyphs" transform="rotate(90 1129.8 630.0)">53b</text>
<polygon points="1101.7,886.9 1107.7,886.9 1121.2,907.3 1121.2,942.4 1100.8,942.4" fill="#fff" stroke="#1a0d05" stroke-width="1.7" stroke-linejoin="miter" />
<circle cx="1109.5" cy="910.2" r="3.1" fill="#fa0808" stroke="none" stroke-width="1"/>
<text x="1108.9" y="927.9" font-size="10" text-anchor="middle" fill="#222" stroke="#222" stroke-width="0.3" font-weight="normal" textLength="15.5" lengthAdjust="spacingAndGlyphs" transform="rotate(90 1108.9 927.9)">58a</text>
<polygon points="1099.1,1029.5 1105.1,1029.5 1118.6,1049.9 1118.6,1085.0 1098.2,1085.0" fill="#fff" stroke="#1a0d05" stroke-width="1.7" stroke-linejoin="miter" />
<circle cx="1106.9" cy="1052.8" r="3.1" fill="#fa0808" stroke="none" stroke-width="1"/>
<text x="1106.3" y="1070.5" font-size="10" text-anchor="middle" fill="#222" stroke="#222" stroke-width="0.3" font-weight="normal" textLength="15.5" lengthAdjust="spacingAndGlyphs" transform="rotate(90 1106.3 1070.5)">57a</text>
<polygon points="1095.0,1260.0 1101.0,1260.0 1114.5,1280.4 1114.5,1312.0 1094.1,1312.0" fill="#fff" stroke="#1a0d05" stroke-width="1.7" stroke-linejoin="miter" />
<circle cx="1102.8" cy="1283.3" r="3.1" fill="#fa0808" stroke="none" stroke-width="1"/>
<text x="1102.2" y="1301.0" font-size="10" text-anchor="middle" fill="#222" stroke="#222" stroke-width="0.3" font-weight="normal" textLength="15.5" lengthAdjust="spacingAndGlyphs" transform="rotate(90 1102.2 1301.0)">56a</text>
<text x="1162.0" y="331.0" font-size="18" text-anchor="middle" fill="#111" stroke="#111" stroke-width="0.6" font-weight="bold" textLength="17.5" lengthAdjust="spacingAndGlyphs">24</text>
<text x="1216.3" y="1228" font-size="19" fill="#2a2208" stroke="#2a2208" stroke-width="0.3" textLength="638" lengthAdjust="spacingAndGlyphs" transform="rotate(-90 1216.3 1228)">Fold, then cut out. (↑ Fold once, then unfold without gluing the two folds together.)</text>
</svg>
</body></html>
